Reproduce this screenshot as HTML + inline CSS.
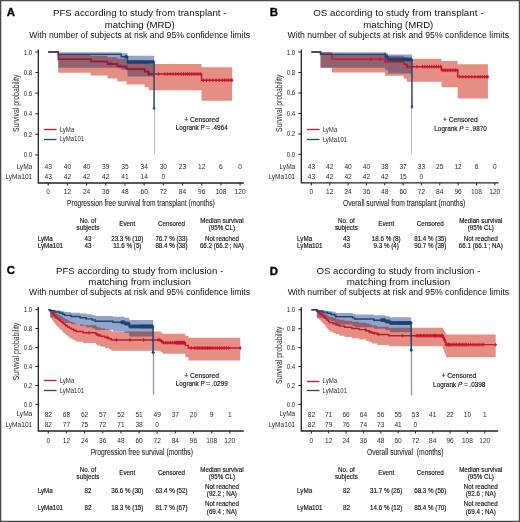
<!DOCTYPE html>
<html><head><meta charset="utf-8"><style>
html,body{margin:0;padding:0;background:#fff;}
body{width:520px;height:522px;overflow:hidden;}
svg{display:block;will-change:transform;}
text{font-family:"Liberation Sans",sans-serif;}
.s{stroke:#111;stroke-width:0.15px;}
</style></head><body>
<svg width="520" height="522" viewBox="0 0 520 522">
<rect x="0" y="0" width="520" height="522" fill="#ffffff"/>
<defs><clipPath id="cliprA"><path d="M48.20,52.00 L58.27,52.00 L58.27,54.37 L90.74,54.37 L90.74,55.70 L107.53,55.70 L107.53,57.16 L117.45,57.16 L117.45,58.74 L126.56,58.74 L126.56,60.45 L144.63,60.45 L144.63,62.23 L148.63,62.23 L148.63,64.08 L201.56,64.08 L201.56,67.23 L232.11,67.23 L232.11,100.75 L201.56,100.75 L201.56,90.19 L148.63,90.19 L148.63,87.33 L144.63,87.33 L144.63,84.41 L126.56,84.41 L126.56,81.40 L117.45,81.40 L117.45,78.45 L107.53,78.45 L107.53,75.58 L90.74,75.58 L90.74,72.67 L58.27,72.67 L58.27,52.00 L48.20,52.00 Z"/></clipPath></defs>
<path d="M48.20,52.00 L58.27,52.00 L58.27,54.37 L90.74,54.37 L90.74,55.70 L107.53,55.70 L107.53,57.16 L117.45,57.16 L117.45,58.74 L126.56,58.74 L126.56,60.45 L144.63,60.45 L144.63,62.23 L148.63,62.23 L148.63,64.08 L201.56,64.08 L201.56,67.23 L232.11,67.23 L232.11,100.75 L201.56,100.75 L201.56,90.19 L148.63,90.19 L148.63,87.33 L144.63,87.33 L144.63,84.41 L126.56,84.41 L126.56,81.40 L117.45,81.40 L117.45,78.45 L107.53,78.45 L107.53,75.58 L90.74,75.58 L90.74,72.67 L58.27,72.67 L58.27,52.00 L48.20,52.00 Z" fill="#e58e84"/>
<path d="M48.20,52.00 L58.27,52.00 L58.27,52.34 L121.28,52.34 L121.28,53.22 L127.52,53.22 L127.52,55.85 L154.07,55.85 L154.07,76.47 L127.52,76.47 L127.52,69.85 L121.28,69.85 L121.28,67.83 L58.27,67.83 L58.27,52.00 L48.20,52.00 Z" fill="#92a4cc"/>
<path d="M48.20,52.00 L58.27,52.00 L58.27,52.34 L121.28,52.34 L121.28,53.22 L127.52,53.22 L127.52,55.85 L154.07,55.85 L154.07,76.47 L127.52,76.47 L127.52,69.85 L121.28,69.85 L121.28,67.83 L58.27,67.83 L58.27,52.00 L48.20,52.00 Z" fill="#92606f" clip-path="url(#cliprA)"/>
<line x1="154.50" y1="108.42" x2="154.50" y2="153.83" stroke="#b4bccb" stroke-width="1"/>
<path d="M48.20,52.00 L58.27,52.00 L58.27,59.18 L90.74,59.18 L90.74,61.57 L107.53,61.57 L107.53,63.97 L117.45,63.97 L117.45,66.42 L126.56,66.42 L126.56,68.95 L144.63,68.95 L144.63,71.48 L148.63,71.48 L148.63,74.01 L201.56,74.01 L201.56,80.23 L232.11,80.23" fill="none" stroke="#c8142e" stroke-width="1.45"/>
<path d="M109.17,63.97 h2.8 M110.57,62.17 v3.6 M118.76,66.42 h2.8 M120.16,64.62 v3.6 M147.55,74.01 h2.8 M148.95,72.21 v3.6 M157.14,74.01 h2.8 M158.54,72.21 v3.6 M163.31,74.01 h2.8 M164.71,72.21 v3.6 M166.05,74.01 h2.8 M167.45,72.21 v3.6 M168.80,74.01 h2.8 M170.20,72.21 v3.6 M171.54,74.01 h2.8 M172.94,72.21 v3.6 M174.28,74.01 h2.8 M175.68,72.21 v3.6 M177.02,74.01 h2.8 M178.42,72.21 v3.6 M179.76,74.01 h2.8 M181.16,72.21 v3.6 M182.09,74.01 h2.8 M183.49,72.21 v3.6 M184.01,74.01 h2.8 M185.41,72.21 v3.6 M185.93,74.01 h2.8 M187.33,72.21 v3.6 M187.85,74.01 h2.8 M189.25,72.21 v3.6 M189.77,74.01 h2.8 M191.17,72.21 v3.6 M191.69,74.01 h2.8 M193.09,72.21 v3.6 M193.61,74.01 h2.8 M195.01,72.21 v3.6 M195.53,74.01 h2.8 M196.93,72.21 v3.6 M197.44,74.01 h2.8 M198.84,72.21 v3.6 M199.36,74.01 h2.8 M200.76,72.21 v3.6 M201.92,80.23 h2.8 M203.32,78.43 v3.6 M205.12,80.23 h2.8 M206.52,78.43 v3.6 M208.32,80.23 h2.8 M209.72,78.43 v3.6 M211.52,80.23 h2.8 M212.92,78.43 v3.6 M214.72,80.23 h2.8 M216.12,78.43 v3.6 M217.91,80.23 h2.8 M219.31,78.43 v3.6 M221.02,80.23 h2.8 M222.42,78.43 v3.6 M223.17,80.23 h2.8 M224.57,78.43 v3.6 M225.33,80.23 h2.8 M226.73,78.43 v3.6 M227.48,80.23 h2.8 M228.88,78.43 v3.6 M229.63,80.23 h2.8 M231.03,78.43 v3.6 M230.71,80.23 h2.8 M232.11,78.43 v3.6" stroke="#c8142e" stroke-width="1" fill="none"/>
<defs><clipPath id="clipbA"><path d="M48.20,52.00 L58.27,52.00 L58.27,52.34 L121.28,52.34 L121.28,53.22 L127.52,53.22 L127.52,55.85 L154.07,55.85 L154.07,76.47 L127.52,76.47 L127.52,69.85 L121.28,69.85 L121.28,67.83 L58.27,67.83 L58.27,52.00 L48.20,52.00 Z"/></clipPath></defs>
<g clip-path="url(#clipbA)"><path d="M48.20,52.00 L58.27,52.00 L58.27,59.18 L90.74,59.18 L90.74,61.57 L107.53,61.57 L107.53,63.97 L117.45,63.97 L117.45,66.42 L126.56,66.42 L126.56,68.95 L144.63,68.95 L144.63,71.48 L148.63,71.48 L148.63,74.01 L201.56,74.01 L201.56,80.23 L232.11,80.23" fill="none" stroke="#8a1f3a" stroke-width="1.45"/>
<path d="M109.17,63.97 h2.8 M110.57,62.17 v3.6 M118.76,66.42 h2.8 M120.16,64.62 v3.6 M147.55,74.01 h2.8 M148.95,72.21 v3.6 M157.14,74.01 h2.8 M158.54,72.21 v3.6 M163.31,74.01 h2.8 M164.71,72.21 v3.6 M166.05,74.01 h2.8 M167.45,72.21 v3.6 M168.80,74.01 h2.8 M170.20,72.21 v3.6 M171.54,74.01 h2.8 M172.94,72.21 v3.6 M174.28,74.01 h2.8 M175.68,72.21 v3.6 M177.02,74.01 h2.8 M178.42,72.21 v3.6 M179.76,74.01 h2.8 M181.16,72.21 v3.6 M182.09,74.01 h2.8 M183.49,72.21 v3.6 M184.01,74.01 h2.8 M185.41,72.21 v3.6 M185.93,74.01 h2.8 M187.33,72.21 v3.6 M187.85,74.01 h2.8 M189.25,72.21 v3.6 M189.77,74.01 h2.8 M191.17,72.21 v3.6 M191.69,74.01 h2.8 M193.09,72.21 v3.6 M193.61,74.01 h2.8 M195.01,72.21 v3.6 M195.53,74.01 h2.8 M196.93,72.21 v3.6 M197.44,74.01 h2.8 M198.84,72.21 v3.6 M199.36,74.01 h2.8 M200.76,72.21 v3.6 M201.92,80.23 h2.8 M203.32,78.43 v3.6 M205.12,80.23 h2.8 M206.52,78.43 v3.6 M208.32,80.23 h2.8 M209.72,78.43 v3.6 M211.52,80.23 h2.8 M212.92,78.43 v3.6 M214.72,80.23 h2.8 M216.12,78.43 v3.6 M217.91,80.23 h2.8 M219.31,78.43 v3.6 M221.02,80.23 h2.8 M222.42,78.43 v3.6 M223.17,80.23 h2.8 M224.57,78.43 v3.6 M225.33,80.23 h2.8 M226.73,78.43 v3.6 M227.48,80.23 h2.8 M228.88,78.43 v3.6 M229.63,80.23 h2.8 M231.03,78.43 v3.6 M230.71,80.23 h2.8 M232.11,78.43 v3.6" stroke="#8a1f3a" stroke-width="1" fill="none"/>
</g>
<path d="M48.20,52.00 L58.27,52.00 L58.27,54.39 L121.28,54.39 L121.28,56.79 L127.52,56.79 L127.52,61.95 L154.07,61.95 L154.07,108.42 L154.07,108.42" fill="none" stroke="#1e4470" stroke-width="1.45"/>
<path d="M123.95,56.79 h2.8 M125.35,54.99 v3.6 M124.71,56.79 h2.8 M126.11,54.99 v3.6 M125.48,56.79 h2.8 M126.88,54.99 v3.6 M126.25,61.95 h2.8 M127.65,60.15 v3.6 M127.02,61.95 h2.8 M128.42,60.15 v3.6 M127.78,61.95 h2.8 M129.18,60.15 v3.6 M128.55,61.95 h2.8 M129.95,60.15 v3.6 M129.32,61.95 h2.8 M130.72,60.15 v3.6 M130.09,61.95 h2.8 M131.49,60.15 v3.6 M130.85,61.95 h2.8 M132.25,60.15 v3.6 M131.62,61.95 h2.8 M133.02,60.15 v3.6 M132.39,61.95 h2.8 M133.79,60.15 v3.6 M133.16,61.95 h2.8 M134.56,60.15 v3.6 M133.92,61.95 h2.8 M135.32,60.15 v3.6 M134.69,61.95 h2.8 M136.09,60.15 v3.6 M135.46,61.95 h2.8 M136.86,60.15 v3.6 M136.23,61.95 h2.8 M137.63,60.15 v3.6 M136.99,61.95 h2.8 M138.39,60.15 v3.6 M137.76,61.95 h2.8 M139.16,60.15 v3.6 M138.53,61.95 h2.8 M139.93,60.15 v3.6 M139.30,61.95 h2.8 M140.70,60.15 v3.6 M140.07,61.95 h2.8 M141.47,60.15 v3.6 M140.83,61.95 h2.8 M142.23,60.15 v3.6 M141.60,61.95 h2.8 M143.00,60.15 v3.6 M142.37,61.95 h2.8 M143.77,60.15 v3.6 M143.32,61.95 h2.8 M144.72,60.15 v3.6 M144.13,61.95 h2.8 M145.53,60.15 v3.6 M144.95,61.95 h2.8 M146.35,60.15 v3.6 M145.76,61.95 h2.8 M147.16,60.15 v3.6 M146.57,61.95 h2.8 M147.97,60.15 v3.6 M147.38,61.95 h2.8 M148.78,60.15 v3.6 M148.20,61.95 h2.8 M149.60,60.15 v3.6 M149.01,61.95 h2.8 M150.41,60.15 v3.6 M149.82,61.95 h2.8 M151.22,60.15 v3.6 M150.64,61.95 h2.8 M152.04,60.15 v3.6 M151.45,61.95 h2.8 M152.85,60.15 v3.6 M152.26,61.95 h2.8 M153.66,60.15 v3.6 M152.67,108.42 h2.8 M154.07,106.62 v3.6" stroke="#1e4470" stroke-width="1" fill="none"/>
<path d="M38.30,49.50 V183.00 H243.80" fill="none" stroke="#222222" stroke-width="1.3"/>
<path d="M35.30,154.90 H38.30 M35.30,134.32 H38.30 M35.30,113.74 H38.30 M35.30,93.16 H38.30 M35.30,72.58 H38.30 M35.30,52.00 H38.30 M48.20,183.00 V185.50 M67.39,183.00 V185.50 M86.58,183.00 V185.50 M105.77,183.00 V185.50 M124.96,183.00 V185.50 M144.15,183.00 V185.50 M163.34,183.00 V185.50 M182.53,183.00 V185.50 M201.72,183.00 V185.50 M220.91,183.00 V185.50 M240.10,183.00 V185.50" stroke="#222222" stroke-width="1"/>
<text x="32.30" y="157.40" font-size="6.6" text-anchor="end" fill="#2a2a2a" textLength="8.60" lengthAdjust="spacingAndGlyphs" >0.0</text>
<text x="32.30" y="136.82" font-size="6.6" text-anchor="end" fill="#2a2a2a" textLength="8.60" lengthAdjust="spacingAndGlyphs" >0.2</text>
<text x="32.30" y="116.24" font-size="6.6" text-anchor="end" fill="#2a2a2a" textLength="8.60" lengthAdjust="spacingAndGlyphs" >0.4</text>
<text x="32.30" y="95.66" font-size="6.6" text-anchor="end" fill="#2a2a2a" textLength="8.60" lengthAdjust="spacingAndGlyphs" >0.6</text>
<text x="32.30" y="75.08" font-size="6.6" text-anchor="end" fill="#2a2a2a" textLength="8.60" lengthAdjust="spacingAndGlyphs" >0.8</text>
<text x="32.30" y="54.50" font-size="6.6" text-anchor="end" fill="#2a2a2a" textLength="8.60" lengthAdjust="spacingAndGlyphs" >1.0</text>
<text x="48.20" y="194.30" font-size="6.6" text-anchor="middle" fill="#2a2a2a" textLength="3.67" lengthAdjust="spacingAndGlyphs" >0</text>
<text x="67.39" y="194.30" font-size="6.6" text-anchor="middle" fill="#2a2a2a" textLength="7.34" lengthAdjust="spacingAndGlyphs" >12</text>
<text x="86.58" y="194.30" font-size="6.6" text-anchor="middle" fill="#2a2a2a" textLength="7.34" lengthAdjust="spacingAndGlyphs" >24</text>
<text x="105.77" y="194.30" font-size="6.6" text-anchor="middle" fill="#2a2a2a" textLength="7.34" lengthAdjust="spacingAndGlyphs" >36</text>
<text x="124.96" y="194.30" font-size="6.6" text-anchor="middle" fill="#2a2a2a" textLength="7.34" lengthAdjust="spacingAndGlyphs" >48</text>
<text x="144.15" y="194.30" font-size="6.6" text-anchor="middle" fill="#2a2a2a" textLength="7.34" lengthAdjust="spacingAndGlyphs" >60</text>
<text x="163.34" y="194.30" font-size="6.6" text-anchor="middle" fill="#2a2a2a" textLength="7.34" lengthAdjust="spacingAndGlyphs" >72</text>
<text x="182.53" y="194.30" font-size="6.6" text-anchor="middle" fill="#2a2a2a" textLength="7.34" lengthAdjust="spacingAndGlyphs" >84</text>
<text x="201.72" y="194.30" font-size="6.6" text-anchor="middle" fill="#2a2a2a" textLength="7.34" lengthAdjust="spacingAndGlyphs" >96</text>
<text x="220.91" y="194.30" font-size="6.6" text-anchor="middle" fill="#2a2a2a" textLength="11.01" lengthAdjust="spacingAndGlyphs" >108</text>
<text x="240.10" y="194.30" font-size="6.6" text-anchor="middle" fill="#2a2a2a" textLength="11.01" lengthAdjust="spacingAndGlyphs" >120</text>
<text x="32.30" y="168.70" font-size="6.6" text-anchor="end" fill="#2a2a2a" textLength="15.89" lengthAdjust="spacingAndGlyphs" >LyMa</text>
<text x="48.20" y="169.00" font-size="6.6" text-anchor="middle" fill="#2a2a2a" textLength="7.34" lengthAdjust="spacingAndGlyphs" >43</text>
<text x="67.39" y="169.00" font-size="6.6" text-anchor="middle" fill="#2a2a2a" textLength="7.34" lengthAdjust="spacingAndGlyphs" >40</text>
<text x="86.58" y="169.00" font-size="6.6" text-anchor="middle" fill="#2a2a2a" textLength="7.34" lengthAdjust="spacingAndGlyphs" >40</text>
<text x="105.77" y="169.00" font-size="6.6" text-anchor="middle" fill="#2a2a2a" textLength="7.34" lengthAdjust="spacingAndGlyphs" >39</text>
<text x="124.96" y="169.00" font-size="6.6" text-anchor="middle" fill="#2a2a2a" textLength="7.34" lengthAdjust="spacingAndGlyphs" >35</text>
<text x="144.15" y="169.00" font-size="6.6" text-anchor="middle" fill="#2a2a2a" textLength="7.34" lengthAdjust="spacingAndGlyphs" >34</text>
<text x="163.34" y="169.00" font-size="6.6" text-anchor="middle" fill="#2a2a2a" textLength="7.34" lengthAdjust="spacingAndGlyphs" >30</text>
<text x="182.53" y="169.00" font-size="6.6" text-anchor="middle" fill="#2a2a2a" textLength="7.34" lengthAdjust="spacingAndGlyphs" >23</text>
<text x="201.72" y="169.00" font-size="6.6" text-anchor="middle" fill="#2a2a2a" textLength="7.34" lengthAdjust="spacingAndGlyphs" >12</text>
<text x="220.91" y="169.00" font-size="6.6" text-anchor="middle" fill="#2a2a2a" textLength="3.67" lengthAdjust="spacingAndGlyphs" >6</text>
<text x="240.10" y="169.00" font-size="6.6" text-anchor="middle" fill="#2a2a2a" textLength="3.67" lengthAdjust="spacingAndGlyphs" >0</text>
<text x="32.30" y="178.50" font-size="6.6" text-anchor="end" fill="#2a2a2a" textLength="26.90" lengthAdjust="spacingAndGlyphs" >LyMa101</text>
<text x="48.20" y="178.80" font-size="6.6" text-anchor="middle" fill="#2a2a2a" textLength="7.34" lengthAdjust="spacingAndGlyphs" >43</text>
<text x="67.39" y="178.80" font-size="6.6" text-anchor="middle" fill="#2a2a2a" textLength="7.34" lengthAdjust="spacingAndGlyphs" >42</text>
<text x="86.58" y="178.80" font-size="6.6" text-anchor="middle" fill="#2a2a2a" textLength="7.34" lengthAdjust="spacingAndGlyphs" >42</text>
<text x="105.77" y="178.80" font-size="6.6" text-anchor="middle" fill="#2a2a2a" textLength="7.34" lengthAdjust="spacingAndGlyphs" >42</text>
<text x="124.96" y="178.80" font-size="6.6" text-anchor="middle" fill="#2a2a2a" textLength="7.34" lengthAdjust="spacingAndGlyphs" >41</text>
<text x="144.15" y="178.80" font-size="6.6" text-anchor="middle" fill="#2a2a2a" textLength="7.34" lengthAdjust="spacingAndGlyphs" >14</text>
<text x="163.34" y="178.80" font-size="6.6" text-anchor="middle" fill="#2a2a2a" textLength="3.67" lengthAdjust="spacingAndGlyphs" >0</text>
<text transform="translate(18.80,103.30) rotate(-90)" x="0" y="0" font-size="8.4" text-anchor="middle" fill="#2a2a2a" textLength="57.5" lengthAdjust="spacingAndGlyphs">Survival probability</text>
<text x="140.90" y="206.20" font-size="8.6" text-anchor="middle" fill="#2a2a2a" textLength="147.60" lengthAdjust="spacingAndGlyphs" style="stroke:#2a2a2a;stroke-width:0.1px">Progression free survival from transplant (months)</text>
<path d="M44.00,129.50 h12.5" stroke="#c8142e" stroke-width="1.3"/>
<path d="M44.00,139.50 h12.5" stroke="#1e4470" stroke-width="1.3"/>
<text x="59.70" y="131.50" font-size="6.6" text-anchor="start" fill="#2a2a2a" textLength="14.60" lengthAdjust="spacingAndGlyphs" >LyMa</text>
<text x="59.70" y="141.30" font-size="6.6" text-anchor="start" fill="#2a2a2a" textLength="24.40" lengthAdjust="spacingAndGlyphs" >LyMa101</text>
<text x="184.30" y="122.10" font-size="7.0" text-anchor="start" fill="#111111" class="s" textLength="34.60" lengthAdjust="spacingAndGlyphs" >+ Censored</text>
<text x="175.80" y="130.40" font-size="7.0" text-anchor="start" fill="#111111" class="s" textLength="51.90" lengthAdjust="spacingAndGlyphs" >Logrank P = .4964</text>
<text x="139.70" y="15.90" font-size="9.7" text-anchor="middle" fill="#111111" textLength="173.50" lengthAdjust="spacingAndGlyphs" >PFS according to study from transplant -</text>
<text x="139.70" y="27.70" font-size="9.7" text-anchor="middle" fill="#111111" textLength="70.00" lengthAdjust="spacingAndGlyphs" >matching (MRD)</text>
<text x="139.70" y="37.70" font-size="8.3" text-anchor="middle" fill="#111111" textLength="221.00" lengthAdjust="spacingAndGlyphs" >With number of subjects at risk and 95% confidence limits</text>
<text x="6.80" y="16.00" font-size="11.4" text-anchor="start" fill="#000000" font-weight="bold" style="stroke:#000;stroke-width:0.35px">A</text>
<text x="88.00" y="223.00" font-size="6.7" text-anchor="middle" fill="#111111" class="s" textLength="16.62" lengthAdjust="spacingAndGlyphs" >No. of</text>
<text x="88.00" y="230.30" font-size="6.7" text-anchor="middle" fill="#111111" class="s" textLength="22.86" lengthAdjust="spacingAndGlyphs" >subjects</text>
<text x="127.30" y="225.85" font-size="6.7" text-anchor="middle" fill="#111111" class="s" textLength="15.93" lengthAdjust="spacingAndGlyphs" >Event</text>
<text x="171.50" y="225.85" font-size="6.7" text-anchor="middle" fill="#111111" class="s" textLength="27.02" lengthAdjust="spacingAndGlyphs" >Censored</text>
<text x="221.90" y="223.00" font-size="6.7" text-anchor="middle" fill="#111111" class="s" textLength="43.29" lengthAdjust="spacingAndGlyphs" >Median survival</text>
<text x="221.90" y="230.30" font-size="6.7" text-anchor="middle" fill="#111111" class="s" textLength="26.32" lengthAdjust="spacingAndGlyphs" >(95% CL)</text>
<text x="37.70" y="240.80" font-size="6.7" text-anchor="start" fill="#111111" class="s" textLength="15.01" lengthAdjust="spacingAndGlyphs" >LyMa</text>
<text x="88.00" y="240.80" font-size="6.7" text-anchor="middle" fill="#111111" class="s" textLength="6.93" lengthAdjust="spacingAndGlyphs" >43</text>
<text x="127.30" y="240.80" font-size="6.7" text-anchor="middle" fill="#111111" class="s" textLength="32.21" lengthAdjust="spacingAndGlyphs" >23.3 % (10)</text>
<text x="171.50" y="240.80" font-size="6.7" text-anchor="middle" fill="#111111" class="s" textLength="32.21" lengthAdjust="spacingAndGlyphs" >76.7 % (33)</text>
<text x="221.90" y="240.80" font-size="6.7" text-anchor="middle" fill="#111111" class="s" textLength="33.94" lengthAdjust="spacingAndGlyphs" >Not reached</text>
<text x="37.70" y="248.00" font-size="6.7" text-anchor="start" fill="#111111" class="s" textLength="25.40" lengthAdjust="spacingAndGlyphs" >LyMa101</text>
<text x="88.00" y="248.00" font-size="6.7" text-anchor="middle" fill="#111111" class="s" textLength="6.93" lengthAdjust="spacingAndGlyphs" >43</text>
<text x="127.30" y="248.00" font-size="6.7" text-anchor="middle" fill="#111111" class="s" textLength="28.28" lengthAdjust="spacingAndGlyphs" >11.6 % (5)</text>
<text x="171.50" y="248.00" font-size="6.7" text-anchor="middle" fill="#111111" class="s" textLength="32.21" lengthAdjust="spacingAndGlyphs" >88.4 % (38)</text>
<text x="221.90" y="248.00" font-size="6.7" text-anchor="middle" fill="#111111" class="s" textLength="43.98" lengthAdjust="spacingAndGlyphs" >66.2 (66.2 ; NA)</text>
<defs><clipPath id="cliprB"><path d="M311.40,52.00 L320.57,52.00 L320.57,52.34 L332.03,52.34 L332.03,54.36 L385.06,54.36 L385.06,55.73 L403.86,55.73 L403.86,57.24 L406.77,57.24 L406.77,58.86 L441.46,58.86 L441.46,61.03 L457.66,61.03 L457.66,64.20 L487.92,64.20 L487.92,98.52 L457.66,98.52 L457.66,87.16 L441.46,87.16 L441.46,81.85 L406.77,81.85 L406.77,78.85 L403.86,78.85 L403.86,75.76 L385.06,75.76 L385.06,72.57 L332.03,72.57 L332.03,67.75 L320.57,67.75 L320.57,52.00 L311.40,52.00 Z"/></clipPath></defs>
<path d="M311.40,52.00 L320.57,52.00 L320.57,52.34 L332.03,52.34 L332.03,54.36 L385.06,54.36 L385.06,55.73 L403.86,55.73 L403.86,57.24 L406.77,57.24 L406.77,58.86 L441.46,58.86 L441.46,61.03 L457.66,61.03 L457.66,64.20 L487.92,64.20 L487.92,98.52 L457.66,98.52 L457.66,87.16 L441.46,87.16 L441.46,81.85 L406.77,81.85 L406.77,78.85 L403.86,78.85 L403.86,75.76 L385.06,75.76 L385.06,72.57 L332.03,72.57 L332.03,67.75 L320.57,67.75 L320.57,52.00 L311.40,52.00 Z" fill="#e58e84"/>
<path d="M311.40,52.00 L320.57,52.00 L320.57,52.34 L385.52,52.34 L385.52,53.23 L387.97,53.23 L387.97,54.46 L411.96,54.46 L411.96,73.45 L387.97,73.45 L387.97,69.97 L385.52,69.97 L385.52,67.75 L320.57,67.75 L320.57,52.00 L311.40,52.00 Z" fill="#92a4cc"/>
<path d="M311.40,52.00 L320.57,52.00 L320.57,52.34 L385.52,52.34 L385.52,53.23 L387.97,53.23 L387.97,54.46 L411.96,54.46 L411.96,73.45 L387.97,73.45 L387.97,69.97 L385.52,69.97 L385.52,67.75 L320.57,67.75 L320.57,52.00 L311.40,52.00 Z" fill="#92606f" clip-path="url(#cliprB)"/>
<line x1="411.50" y1="106.93" x2="411.50" y2="153.45" stroke="#b4bccb" stroke-width="1"/>
<path d="M311.40,52.00 L320.57,52.00 L320.57,54.38 L332.03,54.38 L332.03,59.14 L385.06,59.14 L385.06,61.65 L403.86,61.65 L403.86,64.16 L406.77,64.16 L406.77,66.66 L441.46,66.66 L441.46,70.32 L457.66,70.32 L457.66,76.79 L487.92,76.79" fill="none" stroke="#c8142e" stroke-width="1.45"/>
<path d="M369.60,59.14 h2.8 M371.00,57.34 v3.6 M378.77,59.14 h2.8 M380.17,57.34 v3.6 M406.28,66.66 h2.8 M407.68,64.86 v3.6 M415.45,66.66 h2.8 M416.85,64.86 v3.6 M421.18,66.66 h2.8 M422.58,64.86 v3.6 M423.48,66.66 h2.8 M424.88,64.86 v3.6 M425.77,66.66 h2.8 M427.17,64.86 v3.6 M428.06,66.66 h2.8 M429.46,64.86 v3.6 M430.35,66.66 h2.8 M431.75,64.86 v3.6 M432.65,66.66 h2.8 M434.05,64.86 v3.6 M434.94,66.66 h2.8 M436.34,64.86 v3.6 M437.23,66.66 h2.8 M438.63,64.86 v3.6 M439.21,66.66 h2.8 M440.61,64.86 v3.6 M440.88,70.32 h2.8 M442.28,68.52 v3.6 M442.55,70.32 h2.8 M443.95,68.52 v3.6 M444.21,70.32 h2.8 M445.61,68.52 v3.6 M445.88,70.32 h2.8 M447.28,68.52 v3.6 M447.55,70.32 h2.8 M448.95,68.52 v3.6 M449.21,70.32 h2.8 M450.61,68.52 v3.6 M450.88,70.32 h2.8 M452.28,68.52 v3.6 M452.55,70.32 h2.8 M453.95,68.52 v3.6 M454.22,70.32 h2.8 M455.62,68.52 v3.6 M455.88,70.32 h2.8 M457.28,68.52 v3.6 M458.25,76.79 h2.8 M459.65,74.99 v3.6 M461.30,76.79 h2.8 M462.70,74.99 v3.6 M464.36,76.79 h2.8 M465.76,74.99 v3.6 M467.41,76.79 h2.8 M468.81,74.99 v3.6 M470.47,76.79 h2.8 M471.87,74.99 v3.6 M473.53,76.79 h2.8 M474.93,74.99 v3.6 M476.60,76.79 h2.8 M478.00,74.99 v3.6 M478.80,76.79 h2.8 M480.20,74.99 v3.6 M481.01,76.79 h2.8 M482.41,74.99 v3.6 M483.21,76.79 h2.8 M484.61,74.99 v3.6 M485.42,76.79 h2.8 M486.82,74.99 v3.6 M486.52,76.79 h2.8 M487.92,74.99 v3.6" stroke="#c8142e" stroke-width="1" fill="none"/>
<path d="M311.40,52.00 L320.57,52.00 L320.57,54.38 L385.52,54.38 L385.52,56.82 L387.97,56.82 L387.97,59.46 L411.96,59.46 L411.96,106.93 L411.96,106.93" fill="none" stroke="#1e4470" stroke-width="1.45"/>
<path d="M383.73,54.38 h2.8 M385.13,52.58 v3.6 M384.46,56.82 h2.8 M385.86,55.02 v3.6 M385.19,56.82 h2.8 M386.59,55.02 v3.6 M385.93,56.82 h2.8 M387.33,55.02 v3.6 M386.66,59.46 h2.8 M388.06,57.66 v3.6 M387.39,59.46 h2.8 M388.79,57.66 v3.6 M388.13,59.46 h2.8 M389.53,57.66 v3.6 M388.86,59.46 h2.8 M390.26,57.66 v3.6 M389.59,59.46 h2.8 M390.99,57.66 v3.6 M390.33,59.46 h2.8 M391.73,57.66 v3.6 M391.06,59.46 h2.8 M392.46,57.66 v3.6 M391.79,59.46 h2.8 M393.19,57.66 v3.6 M392.53,59.46 h2.8 M393.93,57.66 v3.6 M393.26,59.46 h2.8 M394.66,57.66 v3.6 M394.00,59.46 h2.8 M395.40,57.66 v3.6 M394.73,59.46 h2.8 M396.13,57.66 v3.6 M395.46,59.46 h2.8 M396.86,57.66 v3.6 M396.20,59.46 h2.8 M397.60,57.66 v3.6 M396.93,59.46 h2.8 M398.33,57.66 v3.6 M397.66,59.46 h2.8 M399.06,57.66 v3.6 M398.40,59.46 h2.8 M399.80,57.66 v3.6 M399.13,59.46 h2.8 M400.53,57.66 v3.6 M399.86,59.46 h2.8 M401.26,57.66 v3.6 M400.60,59.46 h2.8 M402.00,57.66 v3.6 M401.33,59.46 h2.8 M402.73,57.66 v3.6 M402.17,59.46 h2.8 M403.57,57.66 v3.6 M402.84,59.46 h2.8 M404.24,57.66 v3.6 M403.51,59.46 h2.8 M404.91,57.66 v3.6 M404.18,59.46 h2.8 M405.58,57.66 v3.6 M404.85,59.46 h2.8 M406.25,57.66 v3.6 M405.53,59.46 h2.8 M406.93,57.66 v3.6 M406.20,59.46 h2.8 M407.60,57.66 v3.6 M406.87,59.46 h2.8 M408.27,57.66 v3.6 M407.54,59.46 h2.8 M408.94,57.66 v3.6 M408.21,59.46 h2.8 M409.61,57.66 v3.6 M408.88,59.46 h2.8 M410.28,57.66 v3.6 M409.55,59.46 h2.8 M410.95,57.66 v3.6 M410.23,59.46 h2.8 M411.63,57.66 v3.6 M410.56,106.93 h2.8 M411.96,105.13 v3.6" stroke="#1e4470" stroke-width="1" fill="none"/>
<path d="M301.30,49.50 V182.90 H498.60" fill="none" stroke="#222222" stroke-width="1.3"/>
<path d="M298.30,154.40 H301.30 M298.30,133.92 H301.30 M298.30,113.44 H301.30 M298.30,92.96 H301.30 M298.30,72.48 H301.30 M298.30,52.00 H301.30 M311.40,182.90 V185.40 M329.74,182.90 V185.40 M348.08,182.90 V185.40 M366.42,182.90 V185.40 M384.76,182.90 V185.40 M403.10,182.90 V185.40 M421.44,182.90 V185.40 M439.78,182.90 V185.40 M458.12,182.90 V185.40 M476.46,182.90 V185.40 M494.80,182.90 V185.40" stroke="#222222" stroke-width="1"/>
<text x="295.30" y="156.90" font-size="6.6" text-anchor="end" fill="#2a2a2a" textLength="8.60" lengthAdjust="spacingAndGlyphs" >0.0</text>
<text x="295.30" y="136.42" font-size="6.6" text-anchor="end" fill="#2a2a2a" textLength="8.60" lengthAdjust="spacingAndGlyphs" >0.2</text>
<text x="295.30" y="115.94" font-size="6.6" text-anchor="end" fill="#2a2a2a" textLength="8.60" lengthAdjust="spacingAndGlyphs" >0.4</text>
<text x="295.30" y="95.46" font-size="6.6" text-anchor="end" fill="#2a2a2a" textLength="8.60" lengthAdjust="spacingAndGlyphs" >0.6</text>
<text x="295.30" y="74.98" font-size="6.6" text-anchor="end" fill="#2a2a2a" textLength="8.60" lengthAdjust="spacingAndGlyphs" >0.8</text>
<text x="295.30" y="54.50" font-size="6.6" text-anchor="end" fill="#2a2a2a" textLength="8.60" lengthAdjust="spacingAndGlyphs" >1.0</text>
<text x="311.40" y="194.30" font-size="6.6" text-anchor="middle" fill="#2a2a2a" textLength="3.67" lengthAdjust="spacingAndGlyphs" >0</text>
<text x="329.74" y="194.30" font-size="6.6" text-anchor="middle" fill="#2a2a2a" textLength="7.34" lengthAdjust="spacingAndGlyphs" >12</text>
<text x="348.08" y="194.30" font-size="6.6" text-anchor="middle" fill="#2a2a2a" textLength="7.34" lengthAdjust="spacingAndGlyphs" >24</text>
<text x="366.42" y="194.30" font-size="6.6" text-anchor="middle" fill="#2a2a2a" textLength="7.34" lengthAdjust="spacingAndGlyphs" >36</text>
<text x="384.76" y="194.30" font-size="6.6" text-anchor="middle" fill="#2a2a2a" textLength="7.34" lengthAdjust="spacingAndGlyphs" >48</text>
<text x="403.10" y="194.30" font-size="6.6" text-anchor="middle" fill="#2a2a2a" textLength="7.34" lengthAdjust="spacingAndGlyphs" >60</text>
<text x="421.44" y="194.30" font-size="6.6" text-anchor="middle" fill="#2a2a2a" textLength="7.34" lengthAdjust="spacingAndGlyphs" >72</text>
<text x="439.78" y="194.30" font-size="6.6" text-anchor="middle" fill="#2a2a2a" textLength="7.34" lengthAdjust="spacingAndGlyphs" >84</text>
<text x="458.12" y="194.30" font-size="6.6" text-anchor="middle" fill="#2a2a2a" textLength="7.34" lengthAdjust="spacingAndGlyphs" >96</text>
<text x="476.46" y="194.30" font-size="6.6" text-anchor="middle" fill="#2a2a2a" textLength="11.01" lengthAdjust="spacingAndGlyphs" >108</text>
<text x="494.80" y="194.30" font-size="6.6" text-anchor="middle" fill="#2a2a2a" textLength="11.01" lengthAdjust="spacingAndGlyphs" >120</text>
<text x="295.30" y="168.70" font-size="6.6" text-anchor="end" fill="#2a2a2a" textLength="15.89" lengthAdjust="spacingAndGlyphs" >LyMa</text>
<text x="311.40" y="169.00" font-size="6.6" text-anchor="middle" fill="#2a2a2a" textLength="7.34" lengthAdjust="spacingAndGlyphs" >43</text>
<text x="329.74" y="169.00" font-size="6.6" text-anchor="middle" fill="#2a2a2a" textLength="7.34" lengthAdjust="spacingAndGlyphs" >42</text>
<text x="348.08" y="169.00" font-size="6.6" text-anchor="middle" fill="#2a2a2a" textLength="7.34" lengthAdjust="spacingAndGlyphs" >40</text>
<text x="366.42" y="169.00" font-size="6.6" text-anchor="middle" fill="#2a2a2a" textLength="7.34" lengthAdjust="spacingAndGlyphs" >40</text>
<text x="384.76" y="169.00" font-size="6.6" text-anchor="middle" fill="#2a2a2a" textLength="7.34" lengthAdjust="spacingAndGlyphs" >38</text>
<text x="403.10" y="169.00" font-size="6.6" text-anchor="middle" fill="#2a2a2a" textLength="7.34" lengthAdjust="spacingAndGlyphs" >37</text>
<text x="421.44" y="169.00" font-size="6.6" text-anchor="middle" fill="#2a2a2a" textLength="7.34" lengthAdjust="spacingAndGlyphs" >33</text>
<text x="439.78" y="169.00" font-size="6.6" text-anchor="middle" fill="#2a2a2a" textLength="7.34" lengthAdjust="spacingAndGlyphs" >25</text>
<text x="458.12" y="169.00" font-size="6.6" text-anchor="middle" fill="#2a2a2a" textLength="7.34" lengthAdjust="spacingAndGlyphs" >12</text>
<text x="476.46" y="169.00" font-size="6.6" text-anchor="middle" fill="#2a2a2a" textLength="3.67" lengthAdjust="spacingAndGlyphs" >6</text>
<text x="494.80" y="169.00" font-size="6.6" text-anchor="middle" fill="#2a2a2a" textLength="3.67" lengthAdjust="spacingAndGlyphs" >0</text>
<text x="295.30" y="178.50" font-size="6.6" text-anchor="end" fill="#2a2a2a" textLength="26.90" lengthAdjust="spacingAndGlyphs" >LyMa101</text>
<text x="311.40" y="178.80" font-size="6.6" text-anchor="middle" fill="#2a2a2a" textLength="7.34" lengthAdjust="spacingAndGlyphs" >43</text>
<text x="329.74" y="178.80" font-size="6.6" text-anchor="middle" fill="#2a2a2a" textLength="7.34" lengthAdjust="spacingAndGlyphs" >42</text>
<text x="348.08" y="178.80" font-size="6.6" text-anchor="middle" fill="#2a2a2a" textLength="7.34" lengthAdjust="spacingAndGlyphs" >42</text>
<text x="366.42" y="178.80" font-size="6.6" text-anchor="middle" fill="#2a2a2a" textLength="7.34" lengthAdjust="spacingAndGlyphs" >42</text>
<text x="384.76" y="178.80" font-size="6.6" text-anchor="middle" fill="#2a2a2a" textLength="7.34" lengthAdjust="spacingAndGlyphs" >42</text>
<text x="403.10" y="178.80" font-size="6.6" text-anchor="middle" fill="#2a2a2a" textLength="7.34" lengthAdjust="spacingAndGlyphs" >15</text>
<text x="421.44" y="178.80" font-size="6.6" text-anchor="middle" fill="#2a2a2a" textLength="3.67" lengthAdjust="spacingAndGlyphs" >0</text>
<text transform="translate(281.80,103.30) rotate(-90)" x="0" y="0" font-size="8.4" text-anchor="middle" fill="#2a2a2a" textLength="57.5" lengthAdjust="spacingAndGlyphs">Survival probability</text>
<text x="404.10" y="206.00" font-size="8.6" text-anchor="middle" fill="#2a2a2a" textLength="122.40" lengthAdjust="spacingAndGlyphs" style="stroke:#2a2a2a;stroke-width:0.1px">Overall survival from transplant (months)</text>
<path d="M307.00,129.50 h12.5" stroke="#c8142e" stroke-width="1.3"/>
<path d="M307.00,139.50 h12.5" stroke="#1e4470" stroke-width="1.3"/>
<text x="322.70" y="131.70" font-size="6.6" text-anchor="start" fill="#2a2a2a" textLength="14.60" lengthAdjust="spacingAndGlyphs" >LyMa</text>
<text x="322.70" y="141.50" font-size="6.6" text-anchor="start" fill="#2a2a2a" textLength="24.40" lengthAdjust="spacingAndGlyphs" >LyMa101</text>
<text x="443.00" y="122.40" font-size="7.0" text-anchor="start" fill="#111111" class="s" textLength="34.70" lengthAdjust="spacingAndGlyphs" >+ Censored</text>
<text class="s" x="434.30" y="130.60" font-size="7.0" fill="#111111" textLength="52.60" lengthAdjust="spacingAndGlyphs">Logrank <tspan font-style="italic">P</tspan> = .9870</text>
<text x="398.30" y="15.90" font-size="9.7" text-anchor="middle" fill="#111111" textLength="170.20" lengthAdjust="spacingAndGlyphs" >OS according to study from transplant -</text>
<text x="398.30" y="27.70" font-size="9.7" text-anchor="middle" fill="#111111" textLength="70.00" lengthAdjust="spacingAndGlyphs" >matching (MRD)</text>
<text x="398.30" y="37.70" font-size="8.3" text-anchor="middle" fill="#111111" textLength="221.50" lengthAdjust="spacingAndGlyphs" >With number of subjects at risk and 95% confidence limits</text>
<text x="269.80" y="16.00" font-size="11.4" text-anchor="start" fill="#000000" font-weight="bold" style="stroke:#000;stroke-width:0.35px">B</text>
<text x="346.40" y="223.00" font-size="6.7" text-anchor="middle" fill="#111111" class="s" textLength="16.62" lengthAdjust="spacingAndGlyphs" >No. of</text>
<text x="346.40" y="230.30" font-size="6.7" text-anchor="middle" fill="#111111" class="s" textLength="22.86" lengthAdjust="spacingAndGlyphs" >subjects</text>
<text x="386.20" y="225.85" font-size="6.7" text-anchor="middle" fill="#111111" class="s" textLength="15.93" lengthAdjust="spacingAndGlyphs" >Event</text>
<text x="430.30" y="225.85" font-size="6.7" text-anchor="middle" fill="#111111" class="s" textLength="27.02" lengthAdjust="spacingAndGlyphs" >Censored</text>
<text x="480.80" y="223.00" font-size="6.7" text-anchor="middle" fill="#111111" class="s" textLength="43.29" lengthAdjust="spacingAndGlyphs" >Median survival</text>
<text x="480.80" y="230.30" font-size="6.7" text-anchor="middle" fill="#111111" class="s" textLength="26.32" lengthAdjust="spacingAndGlyphs" >(95% CL)</text>
<text x="297.10" y="240.80" font-size="6.7" text-anchor="start" fill="#111111" class="s" textLength="15.01" lengthAdjust="spacingAndGlyphs" >LyMa</text>
<text x="346.40" y="240.80" font-size="6.7" text-anchor="middle" fill="#111111" class="s" textLength="6.93" lengthAdjust="spacingAndGlyphs" >43</text>
<text x="386.20" y="240.80" font-size="6.7" text-anchor="middle" fill="#111111" class="s" textLength="28.74" lengthAdjust="spacingAndGlyphs" >18.6 % (8)</text>
<text x="430.30" y="240.80" font-size="6.7" text-anchor="middle" fill="#111111" class="s" textLength="32.21" lengthAdjust="spacingAndGlyphs" >81.4 % (35)</text>
<text x="480.80" y="240.80" font-size="6.7" text-anchor="middle" fill="#111111" class="s" textLength="33.94" lengthAdjust="spacingAndGlyphs" >Not reached</text>
<text x="297.10" y="248.00" font-size="6.7" text-anchor="start" fill="#111111" class="s" textLength="25.40" lengthAdjust="spacingAndGlyphs" >LyMa101</text>
<text x="346.40" y="248.00" font-size="6.7" text-anchor="middle" fill="#111111" class="s" textLength="6.93" lengthAdjust="spacingAndGlyphs" >43</text>
<text x="386.20" y="248.00" font-size="6.7" text-anchor="middle" fill="#111111" class="s" textLength="25.28" lengthAdjust="spacingAndGlyphs" >9.3 % (4)</text>
<text x="430.30" y="248.00" font-size="6.7" text-anchor="middle" fill="#111111" class="s" textLength="32.21" lengthAdjust="spacingAndGlyphs" >90.7 % (39)</text>
<text x="480.80" y="248.00" font-size="6.7" text-anchor="middle" fill="#111111" class="s" textLength="43.98" lengthAdjust="spacingAndGlyphs" >66.1 (66.1 ; NA)</text>
<defs><clipPath id="cliprC"><path d="M48.30,309.60 L49.81,309.60 L49.81,309.76 L50.87,309.76 L50.87,310.18 L51.93,310.18 L51.93,310.73 L52.99,310.73 L52.99,311.36 L54.05,311.36 L54.05,312.05 L55.11,312.05 L55.11,312.78 L56.16,312.78 L56.16,313.55 L57.38,313.55 L57.38,314.34 L58.89,314.34 L58.89,315.16 L60.40,315.16 L60.40,316.00 L61.91,316.00 L61.91,316.86 L63.12,316.86 L63.12,317.74 L64.63,317.74 L64.63,318.64 L65.84,318.64 L65.84,319.54 L67.66,319.54 L67.66,320.46 L69.47,320.46 L69.47,321.39 L71.44,321.39 L71.44,322.34 L73.71,322.34 L73.71,323.29 L76.28,323.29 L76.28,324.25 L83.09,324.25 L83.09,325.23 L95.94,325.23 L95.94,326.22 L97.00,326.22 L97.00,327.22 L100.48,327.22 L100.48,328.25 L105.02,328.25 L105.02,329.28 L108.80,329.28 L108.80,330.34 L111.37,330.34 L111.37,331.41 L160.53,331.41 L160.53,332.59 L162.49,332.59 L162.49,333.80 L185.33,333.80 L185.33,335.67 L188.36,335.67 L188.36,337.65 L240.24,337.65 L240.24,360.54 L188.36,360.54 L188.36,357.19 L185.33,357.19 L185.33,353.64 L162.49,353.64 L162.49,352.12 L160.53,352.12 L160.53,350.64 L111.37,350.64 L111.37,349.36 L108.80,349.36 L108.80,348.06 L105.02,348.06 L105.02,346.79 L100.48,346.79 L100.48,345.51 L97.00,345.51 L97.00,344.25 L95.94,344.25 L95.94,342.98 L83.09,342.98 L83.09,341.72 L76.28,341.72 L76.28,340.46 L73.71,340.46 L73.71,339.19 L71.44,339.19 L71.44,337.91 L69.47,337.91 L69.47,336.61 L67.66,336.61 L67.66,335.31 L65.84,335.31 L65.84,333.99 L64.63,333.99 L64.63,332.66 L63.12,332.66 L63.12,331.32 L61.91,331.32 L61.91,329.96 L60.40,329.96 L60.40,328.59 L58.89,328.59 L58.89,327.20 L57.38,327.20 L57.38,325.79 L56.16,325.79 L56.16,324.35 L55.11,324.35 L55.11,322.90 L54.05,322.90 L54.05,321.43 L52.99,321.43 L52.99,319.95 L51.93,319.95 L51.93,318.51 L50.87,318.51 L50.87,317.51 L49.81,317.51 L49.81,309.60 L48.30,309.60 Z"/></clipPath></defs>
<path d="M48.30,309.60 L49.81,309.60 L49.81,309.76 L50.87,309.76 L50.87,310.18 L51.93,310.18 L51.93,310.73 L52.99,310.73 L52.99,311.36 L54.05,311.36 L54.05,312.05 L55.11,312.05 L55.11,312.78 L56.16,312.78 L56.16,313.55 L57.38,313.55 L57.38,314.34 L58.89,314.34 L58.89,315.16 L60.40,315.16 L60.40,316.00 L61.91,316.00 L61.91,316.86 L63.12,316.86 L63.12,317.74 L64.63,317.74 L64.63,318.64 L65.84,318.64 L65.84,319.54 L67.66,319.54 L67.66,320.46 L69.47,320.46 L69.47,321.39 L71.44,321.39 L71.44,322.34 L73.71,322.34 L73.71,323.29 L76.28,323.29 L76.28,324.25 L83.09,324.25 L83.09,325.23 L95.94,325.23 L95.94,326.22 L97.00,326.22 L97.00,327.22 L100.48,327.22 L100.48,328.25 L105.02,328.25 L105.02,329.28 L108.80,329.28 L108.80,330.34 L111.37,330.34 L111.37,331.41 L160.53,331.41 L160.53,332.59 L162.49,332.59 L162.49,333.80 L185.33,333.80 L185.33,335.67 L188.36,335.67 L188.36,337.65 L240.24,337.65 L240.24,360.54 L188.36,360.54 L188.36,357.19 L185.33,357.19 L185.33,353.64 L162.49,353.64 L162.49,352.12 L160.53,352.12 L160.53,350.64 L111.37,350.64 L111.37,349.36 L108.80,349.36 L108.80,348.06 L105.02,348.06 L105.02,346.79 L100.48,346.79 L100.48,345.51 L97.00,345.51 L97.00,344.25 L95.94,344.25 L95.94,342.98 L83.09,342.98 L83.09,341.72 L76.28,341.72 L76.28,340.46 L73.71,340.46 L73.71,339.19 L71.44,339.19 L71.44,337.91 L69.47,337.91 L69.47,336.61 L67.66,336.61 L67.66,335.31 L65.84,335.31 L65.84,333.99 L64.63,333.99 L64.63,332.66 L63.12,332.66 L63.12,331.32 L61.91,331.32 L61.91,329.96 L60.40,329.96 L60.40,328.59 L58.89,328.59 L58.89,327.20 L57.38,327.20 L57.38,325.79 L56.16,325.79 L56.16,324.35 L55.11,324.35 L55.11,322.90 L54.05,322.90 L54.05,321.43 L52.99,321.43 L52.99,319.95 L51.93,319.95 L51.93,318.51 L50.87,318.51 L50.87,317.51 L49.81,317.51 L49.81,309.60 L48.30,309.60 Z" fill="#e58e84"/>
<path d="M48.30,309.60 L50.57,309.60 L50.57,309.76 L54.65,309.76 L54.65,310.18 L59.64,310.18 L59.64,310.73 L62.67,310.73 L62.67,311.36 L64.63,311.36 L64.63,312.05 L70.99,312.05 L70.99,312.78 L80.06,312.78 L80.06,313.55 L86.11,313.55 L86.11,314.34 L92.16,314.34 L92.16,315.16 L95.19,315.16 L95.19,316.00 L113.03,316.00 L113.03,316.86 L124.53,316.86 L124.53,317.80 L129.22,317.80 L129.22,319.94 L153.12,319.94 L153.12,336.41 L129.22,336.41 L129.22,332.84 L124.53,332.84 L124.53,331.32 L113.03,331.32 L113.03,329.96 L95.19,329.96 L95.19,328.59 L92.16,328.59 L92.16,327.20 L86.11,327.20 L86.11,325.79 L80.06,325.79 L80.06,324.35 L70.99,324.35 L70.99,322.90 L64.63,322.90 L64.63,321.43 L62.67,321.43 L62.67,319.95 L59.64,319.95 L59.64,318.51 L54.65,318.51 L54.65,317.51 L50.57,317.51 L50.57,309.60 L48.30,309.60 Z" fill="#92a4cc"/>
<path d="M48.30,309.60 L50.57,309.60 L50.57,309.76 L54.65,309.76 L54.65,310.18 L59.64,310.18 L59.64,310.73 L62.67,310.73 L62.67,311.36 L64.63,311.36 L64.63,312.05 L70.99,312.05 L70.99,312.78 L80.06,312.78 L80.06,313.55 L86.11,313.55 L86.11,314.34 L92.16,314.34 L92.16,315.16 L95.19,315.16 L95.19,316.00 L113.03,316.00 L113.03,316.86 L124.53,316.86 L124.53,317.80 L129.22,317.80 L129.22,319.94 L153.12,319.94 L153.12,336.41 L129.22,336.41 L129.22,332.84 L124.53,332.84 L124.53,331.32 L113.03,331.32 L113.03,329.96 L95.19,329.96 L95.19,328.59 L92.16,328.59 L92.16,327.20 L86.11,327.20 L86.11,325.79 L80.06,325.79 L80.06,324.35 L70.99,324.35 L70.99,322.90 L64.63,322.90 L64.63,321.43 L62.67,321.43 L62.67,319.95 L59.64,319.95 L59.64,318.51 L54.65,318.51 L54.65,317.51 L50.57,317.51 L50.57,309.60 L48.30,309.60 Z" fill="#92606f" clip-path="url(#cliprC)"/>
<line x1="153.50" y1="352.44" x2="153.50" y2="394.90" stroke="#8f99ad" stroke-width="1.3"/>
<path d="M48.30,309.60 L49.81,309.60 L49.81,310.76 L50.87,310.76 L50.87,311.91 L51.93,311.91 L51.93,313.07 L52.99,313.07 L52.99,314.22 L54.05,314.22 L54.05,315.38 L55.11,315.38 L55.11,316.54 L56.16,316.54 L56.16,317.69 L57.38,317.69 L57.38,318.85 L58.89,318.85 L58.89,320.00 L60.40,320.00 L60.40,321.16 L61.91,321.16 L61.91,322.32 L63.12,322.32 L63.12,323.47 L64.63,323.47 L64.63,324.63 L65.84,324.63 L65.84,325.79 L67.66,325.79 L67.66,326.94 L69.47,326.94 L69.47,328.10 L71.44,328.10 L71.44,329.25 L73.71,329.25 L73.71,330.41 L76.28,330.41 L76.28,331.57 L83.09,331.57 L83.09,332.72 L95.94,332.72 L95.94,333.90 L97.00,333.90 L97.00,335.07 L100.48,335.07 L100.48,336.27 L105.02,336.27 L105.02,337.46 L108.80,337.46 L108.80,338.68 L111.37,338.68 L111.37,339.90 L160.53,339.90 L160.53,341.27 L162.49,341.27 L162.49,342.67 L185.33,342.67 L185.33,345.36 L188.36,345.36 L188.36,348.04 L240.24,348.04" fill="none" stroke="#c8142e" stroke-width="1.45"/>
<path d="M87.74,332.72 h2.8 M89.14,330.92 v3.6 M96.81,335.07 h2.8 M98.21,333.27 v3.6 M105.89,337.46 h2.8 M107.29,335.66 v3.6 M114.96,339.90 h2.8 M116.36,338.10 v3.6 M128.57,339.90 h2.8 M129.97,338.10 v3.6 M142.19,339.90 h2.8 M143.59,338.10 v3.6 M151.26,339.90 h2.8 M152.66,338.10 v3.6 M156.71,339.90 h2.8 M158.11,338.10 v3.6 M158.52,339.90 h2.8 M159.92,338.10 v3.6 M160.34,341.27 h2.8 M161.74,339.47 v3.6 M162.15,342.67 h2.8 M163.55,340.87 v3.6 M163.97,342.67 h2.8 M165.37,340.87 v3.6 M165.78,342.67 h2.8 M167.18,340.87 v3.6 M167.60,342.67 h2.8 M169.00,340.87 v3.6 M169.41,342.67 h2.8 M170.81,340.87 v3.6 M171.23,342.67 h2.8 M172.63,340.87 v3.6 M173.04,342.67 h2.8 M174.44,340.87 v3.6 M174.40,342.67 h2.8 M175.80,340.87 v3.6 M175.07,342.67 h2.8 M176.47,340.87 v3.6 M175.73,342.67 h2.8 M177.13,340.87 v3.6 M176.40,342.67 h2.8 M177.80,340.87 v3.6 M177.07,342.67 h2.8 M178.47,340.87 v3.6 M177.73,342.67 h2.8 M179.13,340.87 v3.6 M178.40,342.67 h2.8 M179.80,340.87 v3.6 M179.06,342.67 h2.8 M180.46,340.87 v3.6 M179.73,342.67 h2.8 M181.13,340.87 v3.6 M180.39,342.67 h2.8 M181.79,340.87 v3.6 M181.06,342.67 h2.8 M182.46,340.87 v3.6 M181.72,342.67 h2.8 M183.12,340.87 v3.6 M182.39,342.67 h2.8 M183.79,340.87 v3.6 M183.06,342.67 h2.8 M184.46,340.87 v3.6 M189.83,348.04 h2.8 M191.23,346.24 v3.6 M192.92,348.04 h2.8 M194.32,346.24 v3.6 M194.58,348.04 h2.8 M195.98,346.24 v3.6 M196.22,348.04 h2.8 M197.62,346.24 v3.6 M197.87,348.04 h2.8 M199.27,346.24 v3.6 M199.53,348.04 h2.8 M200.93,346.24 v3.6 M201.17,348.04 h2.8 M202.57,346.24 v3.6 M202.83,348.04 h2.8 M204.23,346.24 v3.6 M204.47,348.04 h2.8 M205.88,346.24 v3.6 M206.12,348.04 h2.8 M207.52,346.24 v3.6 M207.78,348.04 h2.8 M209.18,346.24 v3.6 M209.42,348.04 h2.8 M210.82,346.24 v3.6 M211.38,348.04 h2.8 M212.78,346.24 v3.6 M213.65,348.04 h2.8 M215.05,346.24 v3.6 M215.92,348.04 h2.8 M217.32,346.24 v3.6 M218.19,348.04 h2.8 M219.59,346.24 v3.6 M220.46,348.04 h2.8 M221.86,346.24 v3.6 M222.73,348.04 h2.8 M224.13,346.24 v3.6 M225.00,348.04 h2.8 M226.40,346.24 v3.6 M227.27,348.04 h2.8 M228.67,346.24 v3.6 M238.84,348.04 h2.8 M240.24,346.24 v3.6" stroke="#c8142e" stroke-width="1" fill="none"/>
<path d="M48.30,309.60 L50.57,309.60 L50.57,310.76 L54.65,310.76 L54.65,311.91 L59.64,311.91 L59.64,313.07 L62.67,313.07 L62.67,314.22 L64.63,314.22 L64.63,315.38 L70.99,315.38 L70.99,316.54 L80.06,316.54 L80.06,317.69 L86.11,317.69 L86.11,318.85 L92.16,318.85 L92.16,320.00 L95.19,320.00 L95.19,321.16 L113.03,321.16 L113.03,322.32 L124.53,322.32 L124.53,323.58 L129.22,323.58 L129.22,326.47 L153.12,326.47 L153.12,352.44 L153.12,352.44" fill="none" stroke="#1e4470" stroke-width="1.45"/>
<path d="M119.80,322.32 h2.8 M121.20,320.52 v3.6 M120.41,322.32 h2.8 M121.81,320.52 v3.6 M121.01,322.32 h2.8 M122.41,320.52 v3.6 M121.62,322.32 h2.8 M123.02,320.52 v3.6 M122.22,322.32 h2.8 M123.62,320.52 v3.6 M122.83,322.32 h2.8 M124.23,320.52 v3.6 M123.43,323.58 h2.8 M124.83,321.78 v3.6 M124.04,323.58 h2.8 M125.44,321.78 v3.6 M124.64,323.58 h2.8 M126.04,321.78 v3.6 M125.25,323.58 h2.8 M126.65,321.78 v3.6 M125.85,323.58 h2.8 M127.25,321.78 v3.6 M126.46,323.58 h2.8 M127.86,321.78 v3.6 M127.06,323.58 h2.8 M128.46,321.78 v3.6 M127.67,323.58 h2.8 M129.07,321.78 v3.6 M128.27,326.47 h2.8 M129.67,324.67 v3.6 M128.88,326.47 h2.8 M130.28,324.67 v3.6 M129.48,326.47 h2.8 M130.88,324.67 v3.6 M130.09,326.47 h2.8 M131.49,324.67 v3.6 M130.69,326.47 h2.8 M132.09,324.67 v3.6 M131.30,326.47 h2.8 M132.70,324.67 v3.6 M131.90,326.47 h2.8 M133.30,324.67 v3.6 M132.51,326.47 h2.8 M133.91,324.67 v3.6 M133.11,326.47 h2.8 M134.51,324.67 v3.6 M133.72,326.47 h2.8 M135.12,324.67 v3.6 M134.32,326.47 h2.8 M135.72,324.67 v3.6 M134.93,326.47 h2.8 M136.33,324.67 v3.6 M135.53,326.47 h2.8 M136.93,324.67 v3.6 M136.14,326.47 h2.8 M137.54,324.67 v3.6 M136.74,326.47 h2.8 M138.14,324.67 v3.6 M137.35,326.47 h2.8 M138.75,324.67 v3.6 M137.93,326.47 h2.8 M139.33,324.67 v3.6 M138.33,326.47 h2.8 M139.73,324.67 v3.6 M138.73,326.47 h2.8 M140.13,324.67 v3.6 M139.13,326.47 h2.8 M140.53,324.67 v3.6 M139.53,326.47 h2.8 M140.93,324.67 v3.6 M139.93,326.47 h2.8 M141.33,324.67 v3.6 M140.33,326.47 h2.8 M141.73,324.67 v3.6 M140.73,326.47 h2.8 M142.13,324.67 v3.6 M141.13,326.47 h2.8 M142.53,324.67 v3.6 M141.53,326.47 h2.8 M142.93,324.67 v3.6 M141.93,326.47 h2.8 M143.33,324.67 v3.6 M142.33,326.47 h2.8 M143.73,324.67 v3.6 M142.73,326.47 h2.8 M144.13,324.67 v3.6 M143.12,326.47 h2.8 M144.52,324.67 v3.6 M143.52,326.47 h2.8 M144.92,324.67 v3.6 M143.92,326.47 h2.8 M145.32,324.67 v3.6 M144.32,326.47 h2.8 M145.72,324.67 v3.6 M144.72,326.47 h2.8 M146.12,324.67 v3.6 M145.12,326.47 h2.8 M146.52,324.67 v3.6 M145.52,326.47 h2.8 M146.92,324.67 v3.6 M145.92,326.47 h2.8 M147.32,324.67 v3.6 M146.32,326.47 h2.8 M147.72,324.67 v3.6 M146.72,326.47 h2.8 M148.12,324.67 v3.6 M147.12,326.47 h2.8 M148.52,324.67 v3.6 M147.52,326.47 h2.8 M148.92,324.67 v3.6 M147.92,326.47 h2.8 M149.32,324.67 v3.6 M148.32,326.47 h2.8 M149.72,324.67 v3.6 M148.72,326.47 h2.8 M150.12,324.67 v3.6 M149.12,326.47 h2.8 M150.52,324.67 v3.6 M149.52,326.47 h2.8 M150.92,324.67 v3.6 M149.92,326.47 h2.8 M151.32,324.67 v3.6 M150.32,326.47 h2.8 M151.72,324.67 v3.6 M150.72,326.47 h2.8 M152.12,324.67 v3.6 M151.12,326.47 h2.8 M152.52,324.67 v3.6 M151.52,326.47 h2.8 M152.92,324.67 v3.6 M151.72,352.44 h2.8 M153.12,350.64 v3.6 M151.72,352.44 h2.8 M153.12,350.64 v3.6" stroke="#1e4470" stroke-width="1" fill="none"/>
<path d="M38.30,307.10 V431.00 H243.80" fill="none" stroke="#222222" stroke-width="1.3"/>
<path d="M35.30,404.40 H38.30 M35.30,385.44 H38.30 M35.30,366.48 H38.30 M35.30,347.52 H38.30 M35.30,328.56 H38.30 M35.30,309.60 H38.30 M48.30,431.00 V433.50 M66.45,431.00 V433.50 M84.60,431.00 V433.50 M102.75,431.00 V433.50 M120.90,431.00 V433.50 M139.05,431.00 V433.50 M157.20,431.00 V433.50 M175.35,431.00 V433.50 M193.50,431.00 V433.50 M211.65,431.00 V433.50 M229.80,431.00 V433.50" stroke="#222222" stroke-width="1"/>
<text x="32.30" y="406.90" font-size="6.6" text-anchor="end" fill="#2a2a2a" textLength="8.60" lengthAdjust="spacingAndGlyphs" >0.0</text>
<text x="32.30" y="387.94" font-size="6.6" text-anchor="end" fill="#2a2a2a" textLength="8.60" lengthAdjust="spacingAndGlyphs" >0.2</text>
<text x="32.30" y="368.98" font-size="6.6" text-anchor="end" fill="#2a2a2a" textLength="8.60" lengthAdjust="spacingAndGlyphs" >0.4</text>
<text x="32.30" y="350.02" font-size="6.6" text-anchor="end" fill="#2a2a2a" textLength="8.60" lengthAdjust="spacingAndGlyphs" >0.6</text>
<text x="32.30" y="331.06" font-size="6.6" text-anchor="end" fill="#2a2a2a" textLength="8.60" lengthAdjust="spacingAndGlyphs" >0.8</text>
<text x="32.30" y="312.10" font-size="6.6" text-anchor="end" fill="#2a2a2a" textLength="8.60" lengthAdjust="spacingAndGlyphs" >1.0</text>
<text x="48.30" y="442.60" font-size="6.6" text-anchor="middle" fill="#2a2a2a" textLength="3.67" lengthAdjust="spacingAndGlyphs" >0</text>
<text x="66.45" y="442.60" font-size="6.6" text-anchor="middle" fill="#2a2a2a" textLength="7.34" lengthAdjust="spacingAndGlyphs" >12</text>
<text x="84.60" y="442.60" font-size="6.6" text-anchor="middle" fill="#2a2a2a" textLength="7.34" lengthAdjust="spacingAndGlyphs" >24</text>
<text x="102.75" y="442.60" font-size="6.6" text-anchor="middle" fill="#2a2a2a" textLength="7.34" lengthAdjust="spacingAndGlyphs" >36</text>
<text x="120.90" y="442.60" font-size="6.6" text-anchor="middle" fill="#2a2a2a" textLength="7.34" lengthAdjust="spacingAndGlyphs" >48</text>
<text x="139.05" y="442.60" font-size="6.6" text-anchor="middle" fill="#2a2a2a" textLength="7.34" lengthAdjust="spacingAndGlyphs" >60</text>
<text x="157.20" y="442.60" font-size="6.6" text-anchor="middle" fill="#2a2a2a" textLength="7.34" lengthAdjust="spacingAndGlyphs" >72</text>
<text x="175.35" y="442.60" font-size="6.6" text-anchor="middle" fill="#2a2a2a" textLength="7.34" lengthAdjust="spacingAndGlyphs" >84</text>
<text x="193.50" y="442.60" font-size="6.6" text-anchor="middle" fill="#2a2a2a" textLength="7.34" lengthAdjust="spacingAndGlyphs" >96</text>
<text x="211.65" y="442.60" font-size="6.6" text-anchor="middle" fill="#2a2a2a" textLength="11.01" lengthAdjust="spacingAndGlyphs" >108</text>
<text x="229.80" y="442.60" font-size="6.6" text-anchor="middle" fill="#2a2a2a" textLength="11.01" lengthAdjust="spacingAndGlyphs" >120</text>
<text x="32.30" y="416.40" font-size="6.6" text-anchor="end" fill="#2a2a2a" textLength="15.89" lengthAdjust="spacingAndGlyphs" >LyMa</text>
<text x="48.30" y="416.70" font-size="6.6" text-anchor="middle" fill="#2a2a2a" textLength="7.34" lengthAdjust="spacingAndGlyphs" >82</text>
<text x="66.45" y="416.70" font-size="6.6" text-anchor="middle" fill="#2a2a2a" textLength="7.34" lengthAdjust="spacingAndGlyphs" >68</text>
<text x="84.60" y="416.70" font-size="6.6" text-anchor="middle" fill="#2a2a2a" textLength="7.34" lengthAdjust="spacingAndGlyphs" >62</text>
<text x="102.75" y="416.70" font-size="6.6" text-anchor="middle" fill="#2a2a2a" textLength="7.34" lengthAdjust="spacingAndGlyphs" >57</text>
<text x="120.90" y="416.70" font-size="6.6" text-anchor="middle" fill="#2a2a2a" textLength="7.34" lengthAdjust="spacingAndGlyphs" >52</text>
<text x="139.05" y="416.70" font-size="6.6" text-anchor="middle" fill="#2a2a2a" textLength="7.34" lengthAdjust="spacingAndGlyphs" >51</text>
<text x="157.20" y="416.70" font-size="6.6" text-anchor="middle" fill="#2a2a2a" textLength="7.34" lengthAdjust="spacingAndGlyphs" >49</text>
<text x="175.35" y="416.70" font-size="6.6" text-anchor="middle" fill="#2a2a2a" textLength="7.34" lengthAdjust="spacingAndGlyphs" >37</text>
<text x="193.50" y="416.70" font-size="6.6" text-anchor="middle" fill="#2a2a2a" textLength="7.34" lengthAdjust="spacingAndGlyphs" >20</text>
<text x="211.65" y="416.70" font-size="6.6" text-anchor="middle" fill="#2a2a2a" textLength="3.67" lengthAdjust="spacingAndGlyphs" >9</text>
<text x="229.80" y="416.70" font-size="6.6" text-anchor="middle" fill="#2a2a2a" textLength="3.67" lengthAdjust="spacingAndGlyphs" >1</text>
<text x="32.30" y="427.00" font-size="6.6" text-anchor="end" fill="#2a2a2a" textLength="26.90" lengthAdjust="spacingAndGlyphs" >LyMa101</text>
<text x="48.30" y="427.30" font-size="6.6" text-anchor="middle" fill="#2a2a2a" textLength="7.34" lengthAdjust="spacingAndGlyphs" >82</text>
<text x="66.45" y="427.30" font-size="6.6" text-anchor="middle" fill="#2a2a2a" textLength="7.34" lengthAdjust="spacingAndGlyphs" >77</text>
<text x="84.60" y="427.30" font-size="6.6" text-anchor="middle" fill="#2a2a2a" textLength="7.34" lengthAdjust="spacingAndGlyphs" >75</text>
<text x="102.75" y="427.30" font-size="6.6" text-anchor="middle" fill="#2a2a2a" textLength="7.34" lengthAdjust="spacingAndGlyphs" >72</text>
<text x="120.90" y="427.30" font-size="6.6" text-anchor="middle" fill="#2a2a2a" textLength="7.34" lengthAdjust="spacingAndGlyphs" >71</text>
<text x="139.05" y="427.30" font-size="6.6" text-anchor="middle" fill="#2a2a2a" textLength="7.34" lengthAdjust="spacingAndGlyphs" >38</text>
<text x="157.20" y="427.30" font-size="6.6" text-anchor="middle" fill="#2a2a2a" textLength="3.67" lengthAdjust="spacingAndGlyphs" >0</text>
<text transform="translate(18.80,351.50) rotate(-90)" x="0" y="0" font-size="8.4" text-anchor="middle" fill="#2a2a2a" textLength="57.5" lengthAdjust="spacingAndGlyphs">Survival probability</text>
<text x="141.80" y="454.60" font-size="8.6" text-anchor="middle" fill="#2a2a2a" textLength="102.30" lengthAdjust="spacingAndGlyphs" style="stroke:#2a2a2a;stroke-width:0.1px">Progression free survival (months)</text>
<path d="M44.00,380.50 h12.5" stroke="#c8142e" stroke-width="1.3"/>
<path d="M44.00,390.50 h12.5" stroke="#1e4470" stroke-width="1.3"/>
<text x="59.70" y="382.90" font-size="6.6" text-anchor="start" fill="#2a2a2a" textLength="14.60" lengthAdjust="spacingAndGlyphs" >LyMa</text>
<text x="59.70" y="392.70" font-size="6.6" text-anchor="start" fill="#2a2a2a" textLength="24.40" lengthAdjust="spacingAndGlyphs" >LyMa101</text>
<text x="184.30" y="377.90" font-size="7.0" text-anchor="start" fill="#111111" class="s" textLength="34.60" lengthAdjust="spacingAndGlyphs" >+ Censored</text>
<text x="175.80" y="386.30" font-size="7.0" text-anchor="start" fill="#111111" class="s" textLength="51.90" lengthAdjust="spacingAndGlyphs" >Logrank P = .0299</text>
<text x="139.60" y="273.70" font-size="9.7" text-anchor="middle" fill="#111111" textLength="167.00" lengthAdjust="spacingAndGlyphs" >PFS according to study from inclusion -</text>
<text x="139.60" y="284.50" font-size="9.7" text-anchor="middle" fill="#111111" textLength="102.50" lengthAdjust="spacingAndGlyphs" >matching from inclusion</text>
<text x="139.60" y="295.10" font-size="8.3" text-anchor="middle" fill="#111111" textLength="221.00" lengthAdjust="spacingAndGlyphs" >With number of subjects at risk and 95% confidence limits</text>
<text x="6.80" y="274.20" font-size="11.4" text-anchor="start" fill="#000000" font-weight="bold" style="stroke:#000;stroke-width:0.35px">C</text>
<text x="88.00" y="471.90" font-size="6.7" text-anchor="middle" fill="#111111" class="s" textLength="16.62" lengthAdjust="spacingAndGlyphs" >No. of</text>
<text x="88.00" y="479.20" font-size="6.7" text-anchor="middle" fill="#111111" class="s" textLength="22.86" lengthAdjust="spacingAndGlyphs" >subjects</text>
<text x="127.30" y="474.75" font-size="6.7" text-anchor="middle" fill="#111111" class="s" textLength="15.93" lengthAdjust="spacingAndGlyphs" >Event</text>
<text x="171.50" y="474.75" font-size="6.7" text-anchor="middle" fill="#111111" class="s" textLength="27.02" lengthAdjust="spacingAndGlyphs" >Censored</text>
<text x="221.90" y="471.90" font-size="6.7" text-anchor="middle" fill="#111111" class="s" textLength="43.29" lengthAdjust="spacingAndGlyphs" >Median survival</text>
<text x="221.90" y="479.20" font-size="6.7" text-anchor="middle" fill="#111111" class="s" textLength="26.32" lengthAdjust="spacingAndGlyphs" >(95% CL)</text>
<text x="37.70" y="492.60" font-size="6.7" text-anchor="start" fill="#111111" class="s" textLength="15.01" lengthAdjust="spacingAndGlyphs" >LyMa</text>
<text x="88.00" y="492.60" font-size="6.7" text-anchor="middle" fill="#111111" class="s" textLength="6.93" lengthAdjust="spacingAndGlyphs" >82</text>
<text x="127.30" y="492.60" font-size="6.7" text-anchor="middle" fill="#111111" class="s" textLength="32.21" lengthAdjust="spacingAndGlyphs" >36.6 % (30)</text>
<text x="171.50" y="492.60" font-size="6.7" text-anchor="middle" fill="#111111" class="s" textLength="32.21" lengthAdjust="spacingAndGlyphs" >63.4 % (52)</text>
<text x="221.90" y="488.60" font-size="6.7" text-anchor="middle" fill="#111111" class="s" textLength="33.94" lengthAdjust="spacingAndGlyphs" >Not reached</text>
<text x="221.90" y="496.40" font-size="6.7" text-anchor="middle" fill="#111111" class="s" textLength="30.12" lengthAdjust="spacingAndGlyphs" >(92.2 ; NA)</text>
<text x="37.70" y="510.40" font-size="6.7" text-anchor="start" fill="#111111" class="s" textLength="25.40" lengthAdjust="spacingAndGlyphs" >LyMa101</text>
<text x="88.00" y="510.40" font-size="6.7" text-anchor="middle" fill="#111111" class="s" textLength="6.93" lengthAdjust="spacingAndGlyphs" >82</text>
<text x="127.30" y="510.40" font-size="6.7" text-anchor="middle" fill="#111111" class="s" textLength="32.21" lengthAdjust="spacingAndGlyphs" >18.3 % (15)</text>
<text x="171.50" y="510.40" font-size="6.7" text-anchor="middle" fill="#111111" class="s" textLength="32.21" lengthAdjust="spacingAndGlyphs" >81.7 % (67)</text>
<text x="221.90" y="506.40" font-size="6.7" text-anchor="middle" fill="#111111" class="s" textLength="33.94" lengthAdjust="spacingAndGlyphs" >Not reached</text>
<text x="221.90" y="514.20" font-size="6.7" text-anchor="middle" fill="#111111" class="s" textLength="30.12" lengthAdjust="spacingAndGlyphs" >(69.4 ; NA)</text>
<defs><clipPath id="cliprD"><path d="M311.40,309.80 L316.60,309.80 L316.60,309.96 L317.90,309.96 L317.90,310.38 L319.35,310.38 L319.35,310.93 L320.79,310.93 L320.79,311.56 L322.24,311.56 L322.24,312.26 L323.68,312.26 L323.68,312.99 L325.13,312.99 L325.13,313.77 L326.14,313.77 L326.14,314.57 L327.29,314.57 L327.29,315.40 L328.45,315.40 L328.45,316.25 L329.46,316.25 L329.46,317.12 L333.07,317.12 L333.07,318.01 L335.96,318.01 L335.96,318.91 L339.58,318.91 L339.58,319.82 L344.63,319.82 L344.63,320.75 L351.86,320.75 L351.86,321.70 L359.08,321.70 L359.08,322.65 L366.31,322.65 L366.31,323.62 L369.20,323.62 L369.20,324.61 L372.09,324.61 L372.09,325.62 L377.15,325.62 L377.15,326.65 L388.85,326.65 L388.85,327.71 L442.89,327.71 L442.89,329.28 L444.05,329.28 L444.05,330.93 L445.06,330.93 L445.06,332.68 L446.07,332.68 L446.07,334.48 L495.64,334.48 L495.64,357.32 L446.07,357.32 L446.07,354.61 L445.06,354.61 L445.06,351.81 L444.05,351.81 L444.05,349.02 L442.89,349.02 L442.89,346.25 L388.85,346.25 L388.85,344.89 L377.15,344.89 L377.15,343.55 L372.09,343.55 L372.09,342.23 L369.20,342.23 L369.20,340.93 L366.31,340.93 L366.31,339.62 L359.08,339.62 L359.08,338.32 L351.86,338.32 L351.86,337.02 L344.63,337.02 L344.63,335.70 L339.58,335.70 L339.58,334.37 L335.96,334.37 L335.96,333.03 L333.07,333.03 L333.07,331.67 L329.46,331.67 L329.46,330.29 L328.45,330.29 L328.45,328.90 L327.29,328.90 L327.29,327.50 L326.14,327.50 L326.14,326.07 L325.13,326.07 L325.13,324.61 L323.68,324.61 L323.68,323.14 L322.24,323.14 L322.24,321.64 L320.79,321.64 L320.79,320.13 L319.35,320.13 L319.35,318.69 L317.90,318.69 L317.90,317.69 L316.60,317.69 L316.60,309.80 L311.40,309.80 Z"/></clipPath></defs>
<path d="M311.40,309.80 L316.60,309.80 L316.60,309.96 L317.90,309.96 L317.90,310.38 L319.35,310.38 L319.35,310.93 L320.79,310.93 L320.79,311.56 L322.24,311.56 L322.24,312.26 L323.68,312.26 L323.68,312.99 L325.13,312.99 L325.13,313.77 L326.14,313.77 L326.14,314.57 L327.29,314.57 L327.29,315.40 L328.45,315.40 L328.45,316.25 L329.46,316.25 L329.46,317.12 L333.07,317.12 L333.07,318.01 L335.96,318.01 L335.96,318.91 L339.58,318.91 L339.58,319.82 L344.63,319.82 L344.63,320.75 L351.86,320.75 L351.86,321.70 L359.08,321.70 L359.08,322.65 L366.31,322.65 L366.31,323.62 L369.20,323.62 L369.20,324.61 L372.09,324.61 L372.09,325.62 L377.15,325.62 L377.15,326.65 L388.85,326.65 L388.85,327.71 L442.89,327.71 L442.89,329.28 L444.05,329.28 L444.05,330.93 L445.06,330.93 L445.06,332.68 L446.07,332.68 L446.07,334.48 L495.64,334.48 L495.64,357.32 L446.07,357.32 L446.07,354.61 L445.06,354.61 L445.06,351.81 L444.05,351.81 L444.05,349.02 L442.89,349.02 L442.89,346.25 L388.85,346.25 L388.85,344.89 L377.15,344.89 L377.15,343.55 L372.09,343.55 L372.09,342.23 L369.20,342.23 L369.20,340.93 L366.31,340.93 L366.31,339.62 L359.08,339.62 L359.08,338.32 L351.86,338.32 L351.86,337.02 L344.63,337.02 L344.63,335.70 L339.58,335.70 L339.58,334.37 L335.96,334.37 L335.96,333.03 L333.07,333.03 L333.07,331.67 L329.46,331.67 L329.46,330.29 L328.45,330.29 L328.45,328.90 L327.29,328.90 L327.29,327.50 L326.14,327.50 L326.14,326.07 L325.13,326.07 L325.13,324.61 L323.68,324.61 L323.68,323.14 L322.24,323.14 L322.24,321.64 L320.79,321.64 L320.79,320.13 L319.35,320.13 L319.35,318.69 L317.90,318.69 L317.90,317.69 L316.60,317.69 L316.60,309.80 L311.40,309.80 Z" fill="#e58e84"/>
<path d="M311.40,309.80 L317.18,309.80 L317.18,309.96 L322.96,309.96 L322.96,310.38 L327.29,310.38 L327.29,310.93 L330.91,310.93 L330.91,311.56 L334.52,311.56 L334.52,312.24 L335.96,312.24 L335.96,312.97 L352.58,312.97 L352.58,313.74 L354.75,313.74 L354.75,314.53 L373.82,314.53 L373.82,315.35 L385.38,315.35 L385.38,316.27 L390.01,316.27 L390.01,317.30 L411.25,317.30 L411.25,332.30 L390.01,332.30 L390.01,330.37 L385.38,330.37 L385.38,328.75 L373.82,328.75 L373.82,327.36 L354.75,327.36 L354.75,325.95 L352.58,325.95 L352.58,324.52 L335.96,324.52 L335.96,323.07 L334.52,323.07 L334.52,321.60 L330.91,321.60 L330.91,320.13 L327.29,320.13 L327.29,318.69 L322.96,318.69 L322.96,317.69 L317.18,317.69 L317.18,309.80 L311.40,309.80 Z" fill="#92a4cc"/>
<path d="M311.40,309.80 L317.18,309.80 L317.18,309.96 L322.96,309.96 L322.96,310.38 L327.29,310.38 L327.29,310.93 L330.91,310.93 L330.91,311.56 L334.52,311.56 L334.52,312.24 L335.96,312.24 L335.96,312.97 L352.58,312.97 L352.58,313.74 L354.75,313.74 L354.75,314.53 L373.82,314.53 L373.82,315.35 L385.38,315.35 L385.38,316.27 L390.01,316.27 L390.01,317.30 L411.25,317.30 L411.25,332.30 L390.01,332.30 L390.01,330.37 L385.38,330.37 L385.38,328.75 L373.82,328.75 L373.82,327.36 L354.75,327.36 L354.75,325.95 L352.58,325.95 L352.58,324.52 L335.96,324.52 L335.96,323.07 L334.52,323.07 L334.52,321.60 L330.91,321.60 L330.91,320.13 L327.29,320.13 L327.29,318.69 L322.96,318.69 L322.96,317.69 L317.18,317.69 L317.18,309.80 L311.40,309.80 Z" fill="#92606f" clip-path="url(#cliprD)"/>
<line x1="411.50" y1="350.11" x2="411.50" y2="395.53" stroke="#8f99ad" stroke-width="1.3"/>
<path d="M311.40,309.80 L316.60,309.80 L316.60,310.95 L317.90,310.95 L317.90,312.11 L319.35,312.11 L319.35,313.26 L320.79,313.26 L320.79,314.43 L322.24,314.43 L322.24,315.60 L323.68,315.60 L323.68,316.77 L325.13,316.77 L325.13,317.93 L326.14,317.93 L326.14,319.10 L327.29,319.10 L327.29,320.27 L328.45,320.27 L328.45,321.44 L329.46,321.44 L329.46,322.61 L333.07,322.61 L333.07,323.78 L335.96,323.78 L335.96,324.95 L339.58,324.95 L339.58,326.11 L344.63,326.11 L344.63,327.28 L351.86,327.28 L351.86,328.45 L359.08,328.45 L359.08,329.62 L366.31,329.62 L366.31,330.81 L369.20,330.81 L369.20,331.99 L372.09,331.99 L372.09,333.20 L377.15,333.20 L377.15,334.43 L388.85,334.43 L388.85,335.68 L442.89,335.68 L442.89,337.82 L444.05,337.82 L444.05,340.04 L445.06,340.04 L445.06,342.34 L446.07,342.34 L446.07,344.64 L495.64,344.64" fill="none" stroke="#c8142e" stroke-width="1.45"/>
<path d="M318.67,313.26 h2.8 M320.07,311.46 v3.6 M364.19,329.62 h2.8 M365.59,327.82 v3.6 M368.52,331.99 h2.8 M369.92,330.19 v3.6 M372.86,333.20 h2.8 M374.26,331.40 v3.6 M377.19,334.43 h2.8 M378.59,332.63 v3.6 M401.04,335.68 h2.8 M402.44,333.88 v3.6 M409.70,335.68 h2.8 M411.10,333.88 v3.6 M414.76,335.68 h2.8 M416.16,333.88 v3.6 M416.21,335.68 h2.8 M417.61,333.88 v3.6 M417.65,335.68 h2.8 M419.05,333.88 v3.6 M419.10,335.68 h2.8 M420.50,333.88 v3.6 M420.54,335.68 h2.8 M421.94,333.88 v3.6 M421.99,335.68 h2.8 M423.39,333.88 v3.6 M423.43,335.68 h2.8 M424.83,333.88 v3.6 M424.88,335.68 h2.8 M426.28,333.88 v3.6 M426.32,335.68 h2.8 M427.72,333.88 v3.6 M427.77,335.68 h2.8 M429.17,333.88 v3.6 M429.21,335.68 h2.8 M430.61,333.88 v3.6 M430.66,335.68 h2.8 M432.06,333.88 v3.6 M431.96,335.68 h2.8 M433.36,333.88 v3.6 M433.11,335.68 h2.8 M434.51,333.88 v3.6 M434.27,335.68 h2.8 M435.67,333.88 v3.6 M435.43,335.68 h2.8 M436.83,333.88 v3.6 M436.58,335.68 h2.8 M437.98,333.88 v3.6 M437.74,335.68 h2.8 M439.14,333.88 v3.6 M438.89,335.68 h2.8 M440.29,333.88 v3.6 M440.05,335.68 h2.8 M441.45,333.88 v3.6 M441.21,335.68 h2.8 M442.61,333.88 v3.6 M442.36,337.82 h2.8 M443.76,336.02 v3.6 M443.52,340.04 h2.8 M444.92,338.24 v3.6 M444.67,344.64 h2.8 M446.07,342.84 v3.6 M445.83,344.64 h2.8 M447.23,342.84 v3.6 M446.99,344.64 h2.8 M448.39,342.84 v3.6 M448.14,344.64 h2.8 M449.54,342.84 v3.6 M449.44,344.64 h2.8 M450.84,342.84 v3.6 M450.89,344.64 h2.8 M452.29,342.84 v3.6 M452.33,344.64 h2.8 M453.73,342.84 v3.6 M453.78,344.64 h2.8 M455.18,342.84 v3.6 M455.22,344.64 h2.8 M456.62,342.84 v3.6 M456.67,344.64 h2.8 M458.07,342.84 v3.6 M458.11,344.64 h2.8 M459.51,342.84 v3.6 M459.56,344.64 h2.8 M460.96,342.84 v3.6 M461.00,344.64 h2.8 M462.40,342.84 v3.6 M462.45,344.64 h2.8 M463.85,342.84 v3.6 M463.89,344.64 h2.8 M465.29,342.84 v3.6 M465.34,344.64 h2.8 M466.74,342.84 v3.6 M467.02,344.64 h2.8 M468.42,342.84 v3.6 M468.95,344.64 h2.8 M470.35,342.84 v3.6 M470.88,344.64 h2.8 M472.28,342.84 v3.6 M472.80,344.64 h2.8 M474.20,342.84 v3.6 M474.73,344.64 h2.8 M476.13,342.84 v3.6 M476.66,344.64 h2.8 M478.06,342.84 v3.6 M478.58,344.64 h2.8 M479.98,342.84 v3.6 M480.51,344.64 h2.8 M481.91,342.84 v3.6 M482.44,344.64 h2.8 M483.84,342.84 v3.6 M494.24,344.64 h2.8 M495.64,342.84 v3.6" stroke="#c8142e" stroke-width="1" fill="none"/>
<path d="M311.40,309.80 L317.18,309.80 L317.18,310.95 L322.96,310.95 L322.96,312.11 L327.29,312.11 L327.29,313.26 L330.91,313.26 L330.91,314.41 L334.52,314.41 L334.52,315.57 L335.96,315.57 L335.96,316.72 L352.58,316.72 L352.58,317.88 L354.75,317.88 L354.75,319.03 L373.82,319.03 L373.82,320.18 L385.38,320.18 L385.38,321.48 L390.01,321.48 L390.01,322.96 L411.25,322.96 L411.25,350.11 L411.25,350.11" fill="none" stroke="#1e4470" stroke-width="1.45"/>
<path d="M379.65,320.18 h2.8 M381.05,318.38 v3.6 M380.23,320.18 h2.8 M381.63,318.38 v3.6 M380.81,320.18 h2.8 M382.20,318.38 v3.6 M381.38,320.18 h2.8 M382.78,318.38 v3.6 M381.96,320.18 h2.8 M383.36,318.38 v3.6 M382.54,320.18 h2.8 M383.94,318.38 v3.6 M383.12,320.18 h2.8 M384.52,318.38 v3.6 M383.69,320.18 h2.8 M385.09,318.38 v3.6 M384.27,321.48 h2.8 M385.67,319.68 v3.6 M384.85,321.48 h2.8 M386.25,319.68 v3.6 M385.43,321.48 h2.8 M386.83,319.68 v3.6 M386.01,321.48 h2.8 M387.41,319.68 v3.6 M386.59,321.48 h2.8 M387.99,319.68 v3.6 M387.16,321.48 h2.8 M388.56,319.68 v3.6 M387.74,321.48 h2.8 M389.14,319.68 v3.6 M388.32,321.48 h2.8 M389.72,319.68 v3.6 M388.90,322.96 h2.8 M390.30,321.16 v3.6 M389.48,322.96 h2.8 M390.88,321.16 v3.6 M390.05,322.96 h2.8 M391.45,321.16 v3.6 M390.63,322.96 h2.8 M392.03,321.16 v3.6 M391.21,322.96 h2.8 M392.61,321.16 v3.6 M391.79,322.96 h2.8 M393.19,321.16 v3.6 M392.37,322.96 h2.8 M393.76,321.16 v3.6 M392.94,322.96 h2.8 M394.34,321.16 v3.6 M393.52,322.96 h2.8 M394.92,321.16 v3.6 M394.10,322.96 h2.8 M395.50,321.16 v3.6 M394.68,322.96 h2.8 M396.08,321.16 v3.6 M395.25,322.96 h2.8 M396.65,321.16 v3.6 M395.83,322.96 h2.8 M397.23,321.16 v3.6 M396.41,322.96 h2.8 M397.81,321.16 v3.6 M396.94,322.96 h2.8 M398.34,321.16 v3.6 M397.29,322.96 h2.8 M398.69,321.16 v3.6 M397.63,322.96 h2.8 M399.03,321.16 v3.6 M397.97,322.96 h2.8 M399.37,321.16 v3.6 M398.32,322.96 h2.8 M399.72,321.16 v3.6 M398.66,322.96 h2.8 M400.06,321.16 v3.6 M399.01,322.96 h2.8 M400.41,321.16 v3.6 M399.35,322.96 h2.8 M400.75,321.16 v3.6 M399.69,322.96 h2.8 M401.09,321.16 v3.6 M400.04,322.96 h2.8 M401.44,321.16 v3.6 M400.38,322.96 h2.8 M401.78,321.16 v3.6 M400.73,322.96 h2.8 M402.13,321.16 v3.6 M401.07,322.96 h2.8 M402.47,321.16 v3.6 M401.42,322.96 h2.8 M402.82,321.16 v3.6 M401.76,322.96 h2.8 M403.16,321.16 v3.6 M402.10,322.96 h2.8 M403.50,321.16 v3.6 M402.45,322.96 h2.8 M403.85,321.16 v3.6 M402.79,322.96 h2.8 M404.19,321.16 v3.6 M403.14,322.96 h2.8 M404.54,321.16 v3.6 M403.48,322.96 h2.8 M404.88,321.16 v3.6 M403.83,322.96 h2.8 M405.23,321.16 v3.6 M404.17,322.96 h2.8 M405.57,321.16 v3.6 M404.51,322.96 h2.8 M405.91,321.16 v3.6 M404.86,322.96 h2.8 M406.26,321.16 v3.6 M405.20,322.96 h2.8 M406.60,321.16 v3.6 M405.55,322.96 h2.8 M406.95,321.16 v3.6 M405.89,322.96 h2.8 M407.29,321.16 v3.6 M406.24,322.96 h2.8 M407.64,321.16 v3.6 M406.58,322.96 h2.8 M407.98,321.16 v3.6 M406.92,322.96 h2.8 M408.32,321.16 v3.6 M407.27,322.96 h2.8 M408.67,321.16 v3.6 M407.61,322.96 h2.8 M409.01,321.16 v3.6 M407.96,322.96 h2.8 M409.36,321.16 v3.6 M408.30,322.96 h2.8 M409.70,321.16 v3.6 M408.64,322.96 h2.8 M410.04,321.16 v3.6 M408.99,322.96 h2.8 M410.39,321.16 v3.6 M409.33,322.96 h2.8 M410.73,321.16 v3.6 M409.68,322.96 h2.8 M411.08,321.16 v3.6 M409.85,350.11 h2.8 M411.25,348.31 v3.6 M409.85,350.11 h2.8 M411.25,348.31 v3.6" stroke="#1e4470" stroke-width="1" fill="none"/>
<path d="M301.30,307.30 V431.00 H498.20" fill="none" stroke="#222222" stroke-width="1.3"/>
<path d="M298.30,404.40 H301.30 M298.30,385.48 H301.30 M298.30,366.56 H301.30 M298.30,347.64 H301.30 M298.30,328.72 H301.30 M298.30,309.80 H301.30 M311.40,431.00 V433.50 M328.74,431.00 V433.50 M346.08,431.00 V433.50 M363.42,431.00 V433.50 M380.76,431.00 V433.50 M398.10,431.00 V433.50 M415.44,431.00 V433.50 M432.78,431.00 V433.50 M450.12,431.00 V433.50 M467.46,431.00 V433.50 M484.80,431.00 V433.50" stroke="#222222" stroke-width="1"/>
<text x="295.30" y="406.90" font-size="6.6" text-anchor="end" fill="#2a2a2a" textLength="8.60" lengthAdjust="spacingAndGlyphs" >0.0</text>
<text x="295.30" y="387.98" font-size="6.6" text-anchor="end" fill="#2a2a2a" textLength="8.60" lengthAdjust="spacingAndGlyphs" >0.2</text>
<text x="295.30" y="369.06" font-size="6.6" text-anchor="end" fill="#2a2a2a" textLength="8.60" lengthAdjust="spacingAndGlyphs" >0.4</text>
<text x="295.30" y="350.14" font-size="6.6" text-anchor="end" fill="#2a2a2a" textLength="8.60" lengthAdjust="spacingAndGlyphs" >0.6</text>
<text x="295.30" y="331.22" font-size="6.6" text-anchor="end" fill="#2a2a2a" textLength="8.60" lengthAdjust="spacingAndGlyphs" >0.8</text>
<text x="295.30" y="312.30" font-size="6.6" text-anchor="end" fill="#2a2a2a" textLength="8.60" lengthAdjust="spacingAndGlyphs" >1.0</text>
<text x="311.40" y="442.60" font-size="6.6" text-anchor="middle" fill="#2a2a2a" textLength="3.67" lengthAdjust="spacingAndGlyphs" >0</text>
<text x="328.74" y="442.60" font-size="6.6" text-anchor="middle" fill="#2a2a2a" textLength="7.34" lengthAdjust="spacingAndGlyphs" >12</text>
<text x="346.08" y="442.60" font-size="6.6" text-anchor="middle" fill="#2a2a2a" textLength="7.34" lengthAdjust="spacingAndGlyphs" >24</text>
<text x="363.42" y="442.60" font-size="6.6" text-anchor="middle" fill="#2a2a2a" textLength="7.34" lengthAdjust="spacingAndGlyphs" >36</text>
<text x="380.76" y="442.60" font-size="6.6" text-anchor="middle" fill="#2a2a2a" textLength="7.34" lengthAdjust="spacingAndGlyphs" >48</text>
<text x="398.10" y="442.60" font-size="6.6" text-anchor="middle" fill="#2a2a2a" textLength="7.34" lengthAdjust="spacingAndGlyphs" >60</text>
<text x="415.44" y="442.60" font-size="6.6" text-anchor="middle" fill="#2a2a2a" textLength="7.34" lengthAdjust="spacingAndGlyphs" >72</text>
<text x="432.78" y="442.60" font-size="6.6" text-anchor="middle" fill="#2a2a2a" textLength="7.34" lengthAdjust="spacingAndGlyphs" >84</text>
<text x="450.12" y="442.60" font-size="6.6" text-anchor="middle" fill="#2a2a2a" textLength="7.34" lengthAdjust="spacingAndGlyphs" >96</text>
<text x="467.46" y="442.60" font-size="6.6" text-anchor="middle" fill="#2a2a2a" textLength="11.01" lengthAdjust="spacingAndGlyphs" >108</text>
<text x="484.80" y="442.60" font-size="6.6" text-anchor="middle" fill="#2a2a2a" textLength="11.01" lengthAdjust="spacingAndGlyphs" >120</text>
<text x="295.30" y="416.40" font-size="6.6" text-anchor="end" fill="#2a2a2a" textLength="15.89" lengthAdjust="spacingAndGlyphs" >LyMa</text>
<text x="311.40" y="416.70" font-size="6.6" text-anchor="middle" fill="#2a2a2a" textLength="7.34" lengthAdjust="spacingAndGlyphs" >82</text>
<text x="328.74" y="416.70" font-size="6.6" text-anchor="middle" fill="#2a2a2a" textLength="7.34" lengthAdjust="spacingAndGlyphs" >71</text>
<text x="346.08" y="416.70" font-size="6.6" text-anchor="middle" fill="#2a2a2a" textLength="7.34" lengthAdjust="spacingAndGlyphs" >66</text>
<text x="363.42" y="416.70" font-size="6.6" text-anchor="middle" fill="#2a2a2a" textLength="7.34" lengthAdjust="spacingAndGlyphs" >64</text>
<text x="380.76" y="416.70" font-size="6.6" text-anchor="middle" fill="#2a2a2a" textLength="7.34" lengthAdjust="spacingAndGlyphs" >56</text>
<text x="398.10" y="416.70" font-size="6.6" text-anchor="middle" fill="#2a2a2a" textLength="7.34" lengthAdjust="spacingAndGlyphs" >55</text>
<text x="415.44" y="416.70" font-size="6.6" text-anchor="middle" fill="#2a2a2a" textLength="7.34" lengthAdjust="spacingAndGlyphs" >53</text>
<text x="432.78" y="416.70" font-size="6.6" text-anchor="middle" fill="#2a2a2a" textLength="7.34" lengthAdjust="spacingAndGlyphs" >41</text>
<text x="450.12" y="416.70" font-size="6.6" text-anchor="middle" fill="#2a2a2a" textLength="7.34" lengthAdjust="spacingAndGlyphs" >22</text>
<text x="467.46" y="416.70" font-size="6.6" text-anchor="middle" fill="#2a2a2a" textLength="7.34" lengthAdjust="spacingAndGlyphs" >10</text>
<text x="484.80" y="416.70" font-size="6.6" text-anchor="middle" fill="#2a2a2a" textLength="3.67" lengthAdjust="spacingAndGlyphs" >1</text>
<text x="295.30" y="427.00" font-size="6.6" text-anchor="end" fill="#2a2a2a" textLength="26.90" lengthAdjust="spacingAndGlyphs" >LyMa101</text>
<text x="311.40" y="427.30" font-size="6.6" text-anchor="middle" fill="#2a2a2a" textLength="7.34" lengthAdjust="spacingAndGlyphs" >82</text>
<text x="328.74" y="427.30" font-size="6.6" text-anchor="middle" fill="#2a2a2a" textLength="7.34" lengthAdjust="spacingAndGlyphs" >79</text>
<text x="346.08" y="427.30" font-size="6.6" text-anchor="middle" fill="#2a2a2a" textLength="7.34" lengthAdjust="spacingAndGlyphs" >76</text>
<text x="363.42" y="427.30" font-size="6.6" text-anchor="middle" fill="#2a2a2a" textLength="7.34" lengthAdjust="spacingAndGlyphs" >74</text>
<text x="380.76" y="427.30" font-size="6.6" text-anchor="middle" fill="#2a2a2a" textLength="7.34" lengthAdjust="spacingAndGlyphs" >73</text>
<text x="398.10" y="427.30" font-size="6.6" text-anchor="middle" fill="#2a2a2a" textLength="7.34" lengthAdjust="spacingAndGlyphs" >41</text>
<text x="415.44" y="427.30" font-size="6.6" text-anchor="middle" fill="#2a2a2a" textLength="3.67" lengthAdjust="spacingAndGlyphs" >0</text>
<text transform="translate(281.80,355.30) rotate(-90)" x="0" y="0" font-size="8.4" text-anchor="middle" fill="#2a2a2a" textLength="57.5" lengthAdjust="spacingAndGlyphs">Survival probability</text>
<text x="405.20" y="454.50" font-size="8.6" text-anchor="middle" fill="#2a2a2a" textLength="76.60" lengthAdjust="spacingAndGlyphs" style="stroke:#2a2a2a;stroke-width:0.1px">Overall survival  (months)</text>
<path d="M306.90,381.50 h12.5" stroke="#c8142e" stroke-width="1.3"/>
<path d="M306.90,390.50 h12.5" stroke="#1e4470" stroke-width="1.3"/>
<text x="322.60" y="383.30" font-size="6.6" text-anchor="start" fill="#2a2a2a" textLength="14.60" lengthAdjust="spacingAndGlyphs" >LyMa</text>
<text x="322.60" y="393.10" font-size="6.6" text-anchor="start" fill="#2a2a2a" textLength="24.40" lengthAdjust="spacingAndGlyphs" >LyMa101</text>
<text x="441.50" y="378.20" font-size="7.0" text-anchor="start" fill="#111111" class="s" textLength="34.70" lengthAdjust="spacingAndGlyphs" >+ Censored</text>
<text class="s" x="433.10" y="386.60" font-size="7.0" fill="#111111" textLength="52.30" lengthAdjust="spacingAndGlyphs">Logrank <tspan font-style="italic">P</tspan> = .0398</text>
<text x="398.40" y="273.70" font-size="9.7" text-anchor="middle" fill="#111111" textLength="164.00" lengthAdjust="spacingAndGlyphs" >OS according to study from inclusion -</text>
<text x="398.40" y="284.50" font-size="9.7" text-anchor="middle" fill="#111111" textLength="103.50" lengthAdjust="spacingAndGlyphs" >matching from inclusion</text>
<text x="398.40" y="295.10" font-size="8.3" text-anchor="middle" fill="#111111" textLength="221.50" lengthAdjust="spacingAndGlyphs" >With number of subjects at risk and 95% confidence limits</text>
<text x="269.80" y="274.50" font-size="11.4" text-anchor="start" fill="#000000" font-weight="bold" style="stroke:#000;stroke-width:0.35px">D</text>
<text x="346.40" y="471.90" font-size="6.7" text-anchor="middle" fill="#111111" class="s" textLength="16.62" lengthAdjust="spacingAndGlyphs" >No. of</text>
<text x="346.40" y="479.20" font-size="6.7" text-anchor="middle" fill="#111111" class="s" textLength="22.86" lengthAdjust="spacingAndGlyphs" >subjects</text>
<text x="386.20" y="474.75" font-size="6.7" text-anchor="middle" fill="#111111" class="s" textLength="15.93" lengthAdjust="spacingAndGlyphs" >Event</text>
<text x="430.30" y="474.75" font-size="6.7" text-anchor="middle" fill="#111111" class="s" textLength="27.02" lengthAdjust="spacingAndGlyphs" >Censored</text>
<text x="480.80" y="471.90" font-size="6.7" text-anchor="middle" fill="#111111" class="s" textLength="43.29" lengthAdjust="spacingAndGlyphs" >Median survival</text>
<text x="480.80" y="479.20" font-size="6.7" text-anchor="middle" fill="#111111" class="s" textLength="26.32" lengthAdjust="spacingAndGlyphs" >(95% CL)</text>
<text x="297.10" y="492.60" font-size="6.7" text-anchor="start" fill="#111111" class="s" textLength="15.01" lengthAdjust="spacingAndGlyphs" >LyMa</text>
<text x="346.40" y="492.60" font-size="6.7" text-anchor="middle" fill="#111111" class="s" textLength="6.93" lengthAdjust="spacingAndGlyphs" >82</text>
<text x="386.20" y="492.60" font-size="6.7" text-anchor="middle" fill="#111111" class="s" textLength="32.21" lengthAdjust="spacingAndGlyphs" >31.7 % (26)</text>
<text x="430.30" y="492.60" font-size="6.7" text-anchor="middle" fill="#111111" class="s" textLength="32.21" lengthAdjust="spacingAndGlyphs" >68.3 % (56)</text>
<text x="480.80" y="488.60" font-size="6.7" text-anchor="middle" fill="#111111" class="s" textLength="33.94" lengthAdjust="spacingAndGlyphs" >Not reached</text>
<text x="480.80" y="496.40" font-size="6.7" text-anchor="middle" fill="#111111" class="s" textLength="30.12" lengthAdjust="spacingAndGlyphs" >(92.6 ; NA)</text>
<text x="297.10" y="510.40" font-size="6.7" text-anchor="start" fill="#111111" class="s" textLength="25.40" lengthAdjust="spacingAndGlyphs" >LyMa101</text>
<text x="346.40" y="510.40" font-size="6.7" text-anchor="middle" fill="#111111" class="s" textLength="6.93" lengthAdjust="spacingAndGlyphs" >82</text>
<text x="386.20" y="510.40" font-size="6.7" text-anchor="middle" fill="#111111" class="s" textLength="32.21" lengthAdjust="spacingAndGlyphs" >14.6 % (12)</text>
<text x="430.30" y="510.40" font-size="6.7" text-anchor="middle" fill="#111111" class="s" textLength="32.21" lengthAdjust="spacingAndGlyphs" >85.4 % (70)</text>
<text x="480.80" y="506.40" font-size="6.7" text-anchor="middle" fill="#111111" class="s" textLength="33.94" lengthAdjust="spacingAndGlyphs" >Not reached</text>
<text x="480.80" y="514.20" font-size="6.7" text-anchor="middle" fill="#111111" class="s" textLength="30.12" lengthAdjust="spacingAndGlyphs" >(69.4 ; NA)</text>
<path d="M0,0 H520 V1.2 H0 Z M0,0 H1.3 V522 H0 Z M518.8,0 H520 V522 H518.8 Z M0,520.7 H520 V522 H0 Z" fill="#4a4a4a"/>
</svg>
</body></html>
